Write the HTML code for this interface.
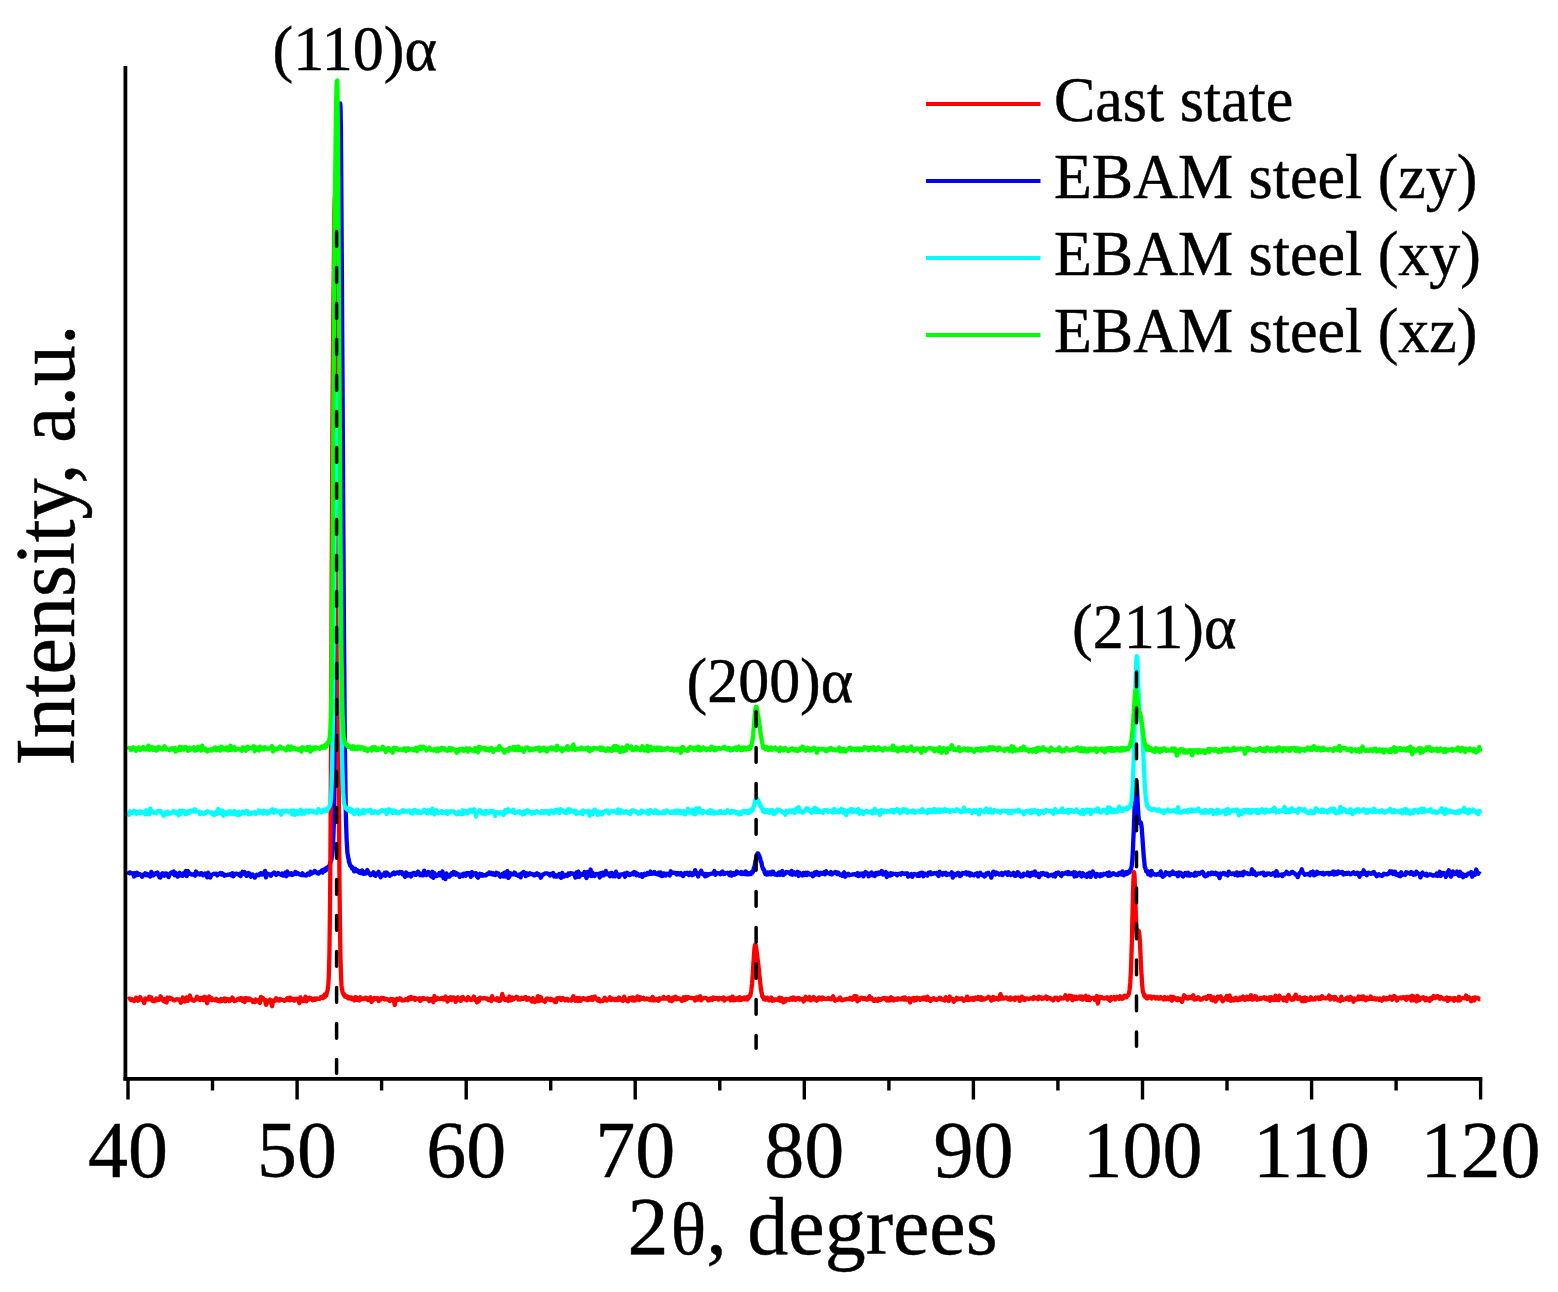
<!DOCTYPE html>
<html><head><meta charset="utf-8"><title>XRD patterns</title>
<style>
html,body{margin:0;padding:0;background:#fff;}
body{width:1558px;height:1292px;overflow:hidden;}
svg{display:block;}
text{font-family:"Liberation Serif","Times New Roman",serif;fill:#000;stroke:#000;stroke-width:0.45px;}
.tk{font-size:80px;}
.lg{font-size:62px;}
.pk{font-size:62px;}
.ax{font-size:82px;}
</style></head>
<body>
<svg width="1558" height="1292" viewBox="0 0 1558 1292">
<rect width="1558" height="1292" fill="#fff"/>
<g id="data">
<polyline fill="none" stroke="#0000ff" stroke-width="4.3" stroke-linejoin="round" points="128.0,874.8 129.0,872.7 130.0,872.3 131.0,873.2 132.1,873.6 133.1,873.3 134.1,876.5 135.1,873.1 136.1,875.3 137.1,872.7 138.1,874.8 139.2,874.1 140.2,874.4 141.2,875.2 142.2,876.7 143.2,874.7 144.2,874.6 145.2,873.2 146.3,875.2 147.3,874.1 148.3,875.4 149.3,874.3 150.3,876.6 151.3,871.9 152.3,874.0 153.4,875.4 154.4,873.9 155.4,873.3 156.4,874.0 157.4,872.6 158.4,874.4 159.4,877.4 160.5,877.5 161.5,874.2 162.5,873.3 163.5,873.9 164.5,875.7 165.5,873.4 166.6,873.6 167.6,875.5 168.6,877.1 169.6,873.9 170.6,873.0 171.6,872.4 172.6,873.5 173.7,871.5 174.7,875.2 175.7,872.9 176.7,874.9 177.7,876.6 178.7,875.8 179.7,872.8 180.8,875.4 181.8,875.7 182.8,875.8 183.8,873.1 184.8,874.1 185.8,871.0 186.8,876.1 187.9,871.2 188.9,872.8 189.9,873.9 190.9,874.0 191.9,874.5 192.9,874.6 193.9,874.0 195.0,875.7 196.0,871.5 197.0,874.2 198.0,873.3 199.0,874.4 200.0,874.5 201.0,873.1 202.1,873.5 203.1,875.3 204.1,874.8 205.1,873.5 206.1,874.8 207.1,877.3 208.1,872.6 209.2,874.8 210.2,877.6 211.2,875.4 212.2,874.7 213.2,874.2 214.2,873.7 215.2,874.1 216.3,873.7 217.3,875.4 218.3,874.0 219.3,873.9 220.3,873.0 221.3,874.4 222.3,873.3 223.4,874.2 224.4,875.8 225.4,874.9 226.4,875.1 227.4,874.9 228.4,874.6 229.4,874.4 230.5,874.1 231.5,875.4 232.5,873.2 233.5,876.2 234.5,874.6 235.5,873.6 236.5,874.0 237.6,873.8 238.6,874.9 239.6,873.9 240.6,876.1 241.6,873.7 242.6,871.8 243.7,873.7 244.7,872.1 245.7,874.5 246.7,875.9 247.7,875.4 248.7,872.9 249.7,873.7 250.8,876.8 251.8,875.0 252.8,874.5 253.8,875.8 254.8,877.6 255.8,876.1 256.8,874.7 257.9,875.0 258.9,875.3 259.9,873.8 260.9,873.2 261.9,874.5 262.9,873.3 263.9,874.4 265.0,870.9 266.0,877.4 267.0,873.3 268.0,874.2 269.0,874.1 270.0,874.9 271.0,875.7 272.1,873.8 273.1,873.4 274.1,872.4 275.1,873.3 276.1,875.0 277.1,874.4 278.1,873.0 279.2,873.8 280.2,874.3 281.2,874.9 282.2,873.5 283.2,875.5 284.2,874.1 285.2,872.8 286.3,876.2 287.3,871.5 288.3,873.9 289.3,874.6 290.3,873.8 291.3,873.2 292.3,874.9 293.4,874.2 294.4,874.1 295.4,871.9 296.4,873.9 297.4,873.0 298.4,873.4 299.4,874.3 300.5,874.8 301.5,875.1 302.5,873.3 303.5,875.1 304.5,875.3 305.5,875.2 306.5,875.5 307.6,873.6 308.6,873.5 309.6,874.6 310.6,871.8 311.6,873.6 312.6,872.6 313.6,872.7 314.7,870.9 315.7,871.8 316.7,872.6 317.7,873.5 318.7,873.5 319.7,872.0 320.8,871.6 321.6,870.6 321.9,871.7 322.3,871.1 322.6,872.6 322.9,872.2 323.3,870.8 323.6,869.7 324.0,870.0 324.3,869.4 324.6,869.8 325.0,870.9 325.3,869.9 325.7,868.5 326.0,869.7 326.3,869.8 326.7,868.5 327.0,868.0 327.3,867.4 327.7,867.9 328.0,867.7 328.4,867.5 328.7,867.1 329.0,866.5 329.4,866.0 329.7,864.9 330.1,862.9 330.4,862.8 330.7,862.0 331.1,860.6 331.4,859.8 331.7,857.6 332.1,855.3 332.4,853.4 332.8,849.2 333.1,843.6 333.4,836.0 333.8,825.0 334.1,809.4 334.4,787.7 334.8,759.7 335.1,723.2 335.5,677.6 335.8,623.6 336.1,561.6 336.5,493.6 336.8,423.6 337.2,356.6 337.5,297.0 337.8,251.5 338.2,221.7 338.5,192.7 338.8,163.8 339.2,138.0 339.5,117.5 339.9,105.5 340.2,103.5 340.5,106.4 340.9,127.3 341.2,166.2 341.5,217.0 341.9,274.5 342.2,332.1 342.6,388.3 342.9,446.6 343.2,507.0 343.6,566.2 343.9,621.2 344.3,670.4 344.6,712.7 344.9,747.6 345.3,776.7 345.6,799.4 345.9,816.7 346.3,829.7 346.6,839.0 347.0,845.9 347.3,851.1 347.6,854.2 348.0,856.2 348.3,858.2 348.6,858.8 349.0,862.3 349.3,862.2 349.7,864.2 350.0,864.6 350.3,865.9 350.7,866.1 351.0,866.0 351.4,866.5 351.7,867.1 352.0,868.4 352.2,867.2 353.2,868.8 354.2,871.4 355.2,868.8 356.3,871.1 357.3,870.2 358.3,871.8 359.3,872.8 360.3,871.3 361.3,873.1 362.3,870.5 363.4,873.9 364.4,872.0 365.4,873.6 366.4,873.2 367.4,870.0 368.4,872.3 369.4,873.5 370.5,875.2 371.5,873.7 372.5,873.8 373.5,872.2 374.5,875.3 375.5,875.8 376.5,873.7 377.6,873.5 378.6,871.8 379.6,874.9 380.6,877.2 381.6,874.8 382.6,875.5 383.6,874.6 384.7,872.8 385.7,875.7 386.7,872.5 387.7,873.8 388.7,874.4 389.7,875.8 390.8,874.6 391.8,874.6 392.8,873.2 393.8,872.5 394.8,874.2 395.8,873.3 396.8,872.5 397.9,872.6 398.9,873.6 399.9,872.0 400.9,872.6 401.9,872.3 402.9,874.5 403.9,874.8 405.0,876.8 406.0,872.4 407.0,873.5 408.0,875.5 409.0,874.1 410.0,873.9 411.0,876.5 412.1,874.5 413.1,873.0 414.1,872.8 415.1,874.9 416.1,874.9 417.1,872.9 418.1,871.6 419.2,873.7 420.2,875.3 421.2,873.8 422.2,875.4 423.2,875.3 424.2,870.6 425.2,874.3 426.3,875.1 427.3,873.9 428.3,871.9 429.3,874.2 430.3,875.5 431.3,876.5 432.3,871.8 433.4,877.8 434.4,873.1 435.4,875.7 436.4,876.1 437.4,875.8 438.4,874.8 439.4,873.1 440.5,875.4 441.5,873.7 442.5,871.4 443.5,878.1 444.5,875.5 445.5,879.1 446.5,873.4 447.6,876.4 448.6,876.5 449.6,876.6 450.6,874.6 451.6,873.2 452.6,874.5 453.6,871.9 454.7,872.5 455.7,874.7 456.7,873.3 457.7,874.3 458.7,874.4 459.7,876.9 460.7,874.8 461.8,874.5 462.8,876.1 463.8,873.6 464.8,874.2 465.8,875.8 466.8,873.1 467.9,874.3 468.9,873.0 469.9,874.9 470.9,876.8 471.9,872.2 472.9,875.1 473.9,873.6 475.0,873.3 476.0,873.1 477.0,876.5 478.0,877.6 479.0,875.3 480.0,873.8 481.0,875.6 482.1,874.3 483.1,875.7 484.1,875.1 485.1,875.1 486.1,875.4 487.1,873.9 488.1,874.1 489.2,872.5 490.2,874.0 491.2,872.8 492.2,874.4 493.2,873.4 494.2,874.7 495.2,875.1 496.3,872.8 497.3,873.6 498.3,873.4 499.3,875.5 500.3,876.7 501.3,875.6 502.3,874.1 503.4,876.4 504.4,872.7 505.4,876.5 506.4,873.8 507.4,871.1 508.4,877.9 509.4,876.5 510.5,873.2 511.5,874.7 512.5,874.2 513.5,874.5 514.5,872.6 515.5,873.6 516.5,875.1 517.6,874.8 518.6,876.0 519.6,874.6 520.6,877.4 521.6,873.5 522.6,874.2 523.6,872.0 524.7,872.9 525.7,876.1 526.7,873.3 527.7,875.2 528.7,874.5 529.7,873.3 530.7,874.1 531.8,873.9 532.8,874.3 533.8,875.4 534.8,875.3 535.8,873.8 536.8,873.3 537.8,874.8 538.9,874.3 539.9,875.7 540.9,877.7 541.9,875.5 542.9,874.4 543.9,874.3 545.0,873.4 546.0,873.4 547.0,873.3 548.0,874.0 549.0,874.0 550.0,875.4 551.0,874.0 552.1,874.2 553.1,872.9 554.1,876.5 555.1,875.1 556.1,876.7 557.1,875.4 558.1,876.3 559.2,874.1 560.2,875.4 561.2,877.8 562.2,872.9 563.2,875.9 564.2,876.6 565.2,875.0 566.3,875.3 567.3,875.9 568.3,873.5 569.3,874.8 570.3,873.2 571.3,873.4 572.3,873.5 573.4,874.1 574.4,874.5 575.4,877.5 576.4,872.5 577.4,876.8 578.4,871.7 579.4,876.8 580.5,873.8 581.5,874.1 582.5,874.9 583.5,874.7 584.5,872.0 585.5,875.2 586.5,878.0 587.6,871.9 588.6,875.6 589.6,874.8 590.6,869.5 591.6,876.1 592.6,872.8 593.6,874.5 594.7,876.1 595.7,874.1 596.7,873.8 597.7,874.5 598.7,873.8 599.7,877.5 600.7,873.2 601.8,875.5 602.8,872.8 603.8,875.2 604.8,874.1 605.8,870.9 606.8,874.2 607.8,873.9 608.9,873.7 609.9,876.2 610.9,872.8 611.9,872.9 612.9,876.2 613.9,874.5 615.0,876.3 616.0,871.7 617.0,875.4 618.0,874.2 619.0,877.0 620.0,875.5 621.0,874.3 622.1,874.4 623.1,874.2 624.1,873.6 625.1,876.8 626.1,874.3 627.1,872.8 628.1,873.5 629.2,875.1 630.2,874.9 631.2,874.0 632.2,873.3 633.2,874.2 634.2,872.0 635.2,872.5 636.3,875.2 637.3,873.5 638.3,874.6 639.3,875.7 640.3,875.0 641.3,874.2 642.3,876.9 643.4,875.1 644.4,873.7 645.4,875.1 646.4,874.7 647.4,873.0 648.4,874.2 649.4,873.9 650.5,871.6 651.5,873.9 652.5,873.7 653.5,873.6 654.5,872.0 655.5,873.7 656.5,874.1 657.6,874.3 658.6,872.7 659.6,875.0 660.6,872.6 661.6,876.0 662.6,875.9 663.6,873.3 664.7,873.5 665.7,875.5 666.7,873.7 667.7,873.8 668.7,874.4 669.7,875.5 670.7,871.3 671.8,873.1 672.8,872.8 673.8,872.7 674.8,873.0 675.8,873.0 676.8,874.4 677.8,872.9 678.9,874.2 679.9,874.6 680.9,873.1 681.9,874.2 682.9,876.1 683.9,874.4 684.9,873.1 686.0,873.9 687.0,872.8 688.0,874.3 689.0,875.0 690.0,872.8 691.0,873.6 692.1,875.3 693.1,873.2 694.1,874.1 695.1,870.1 696.1,872.8 697.1,873.1 698.1,876.5 699.2,873.2 700.2,873.0 701.2,870.8 702.2,873.5 703.2,874.5 704.2,873.9 705.2,876.3 706.3,874.0 707.3,875.6 708.3,874.1 709.3,874.5 710.3,873.9 711.3,873.7 712.3,873.7 713.4,873.5 714.4,871.0 715.4,874.8 716.4,873.2 717.4,873.1 718.4,873.4 719.4,873.4 720.5,874.2 721.5,872.2 722.5,871.5 723.5,874.1 724.5,873.9 725.5,873.2 726.5,873.0 727.6,872.7 728.6,873.7 729.6,875.2 730.6,872.4 731.6,875.6 732.6,874.7 733.6,873.1 734.7,874.7 735.7,874.2 736.7,871.5 737.7,872.1 738.7,873.2 739.7,873.3 740.7,873.0 740.9,873.7 741.3,872.0 741.6,874.0 741.9,872.5 742.3,873.1 742.6,873.3 742.9,872.7 743.3,872.6 743.6,872.9 744.0,873.6 744.3,874.0 744.6,874.0 745.0,872.8 745.3,873.0 745.6,871.4 746.0,873.0 746.3,872.0 746.7,874.4 747.0,873.1 747.3,872.9 747.7,873.7 748.0,874.2 748.4,873.7 748.7,874.2 749.0,873.4 749.4,874.2 749.7,874.2 750.0,873.1 750.4,874.2 750.7,874.2 751.1,873.1 751.4,872.2 751.7,872.5 752.1,873.0 752.4,871.2 752.8,872.2 753.1,871.4 753.4,870.6 753.8,868.0 754.1,868.2 754.4,867.4 754.8,865.0 755.1,863.8 755.5,860.7 755.8,860.4 756.1,858.0 756.5,857.0 756.8,854.6 757.1,854.5 757.5,853.6 757.8,853.9 758.2,853.5 758.5,854.1 758.8,855.9 759.2,855.6 759.5,856.5 759.9,857.7 760.2,858.3 760.5,860.4 760.9,861.8 761.2,861.8 761.5,862.5 761.9,865.3 762.2,866.5 762.6,867.5 762.9,868.8 763.2,868.5 763.6,869.8 763.9,869.7 764.2,870.3 764.6,872.5 764.9,871.7 765.3,874.1 765.6,872.8 765.9,872.4 766.3,873.6 766.6,874.5 767.0,873.6 767.3,872.4 767.6,873.6 768.0,874.4 768.3,873.0 768.6,872.8 769.0,874.2 769.3,873.5 769.7,872.6 770.0,873.2 770.3,872.9 770.7,873.7 771.0,873.6 771.3,874.4 772.2,871.6 773.2,871.6 774.2,874.1 775.2,874.7 776.3,874.2 777.3,874.9 778.3,872.9 779.3,872.4 780.3,874.8 781.3,872.4 782.3,871.0 783.4,875.0 784.4,872.8 785.4,873.4 786.4,872.0 787.4,872.1 788.4,872.3 789.4,873.3 790.5,874.2 791.5,870.9 792.5,874.7 793.5,872.3 794.5,872.4 795.5,874.6 796.5,873.6 797.6,871.8 798.6,876.0 799.6,872.7 800.6,874.1 801.6,874.0 802.6,875.5 803.6,873.1 804.7,874.9 805.7,872.7 806.7,875.1 807.7,872.7 808.7,873.3 809.7,874.5 810.7,874.0 811.8,873.7 812.8,876.3 813.8,874.0 814.8,872.5 815.8,874.5 816.8,872.1 817.8,873.4 818.9,875.1 819.9,872.9 820.9,872.8 821.9,873.8 822.9,873.6 823.9,872.4 824.9,874.3 826.0,871.1 827.0,873.1 828.0,873.1 829.0,873.3 830.0,874.0 831.0,872.1 832.0,874.4 833.1,873.4 834.1,872.9 835.1,872.0 836.1,872.2 837.1,874.1 838.1,872.5 839.2,873.8 840.2,875.0 841.2,875.0 842.2,875.7 843.2,873.4 844.2,872.4 845.2,876.7 846.3,874.1 847.3,875.1 848.3,873.7 849.3,875.2 850.3,874.8 851.3,874.7 852.3,874.5 853.4,874.4 854.4,874.2 855.4,874.2 856.4,875.1 857.4,873.2 858.4,876.0 859.4,873.8 860.5,875.1 861.5,873.7 862.5,873.5 863.5,876.4 864.5,873.4 865.5,872.1 866.5,872.8 867.6,873.4 868.6,876.3 869.6,873.9 870.6,874.9 871.6,872.4 872.6,875.2 873.6,874.5 874.7,876.0 875.7,872.9 876.7,874.6 877.7,874.2 878.7,872.6 879.7,873.8 880.7,873.5 881.8,870.9 882.8,874.5 883.8,874.4 884.8,873.2 885.8,872.1 886.8,877.0 887.8,873.6 888.9,875.1 889.9,875.6 890.9,873.2 891.9,874.9 892.9,873.6 893.9,873.8 894.9,873.8 896.0,873.9 897.0,875.3 898.0,874.1 899.0,873.8 900.0,873.7 901.0,874.5 902.0,872.9 903.1,873.4 904.1,874.0 905.1,873.4 906.1,874.0 907.1,873.3 908.1,876.6 909.1,875.7 910.2,874.6 911.2,874.0 912.2,876.8 913.2,874.5 914.2,873.9 915.2,874.4 916.3,874.5 917.3,875.8 918.3,874.0 919.3,875.8 920.3,872.9 921.3,874.8 922.3,872.7 923.4,876.3 924.4,873.6 925.4,873.9 926.4,875.2 927.4,875.6 928.4,872.6 929.4,873.6 930.5,872.3 931.5,874.2 932.5,873.9 933.5,873.5 934.5,873.1 935.5,873.5 936.5,873.0 937.6,874.6 938.6,875.9 939.6,871.6 940.6,873.9 941.6,873.6 942.6,874.7 943.6,872.9 944.7,873.9 945.7,872.8 946.7,875.0 947.7,874.2 948.7,873.9 949.7,874.6 950.7,873.8 951.8,872.2 952.8,877.7 953.8,874.5 954.8,873.9 955.8,875.3 956.8,873.7 957.8,872.8 958.9,873.2 959.9,876.1 960.9,875.6 961.9,873.3 962.9,872.8 963.9,873.5 964.9,873.6 966.0,872.3 967.0,874.4 968.0,872.7 969.0,872.9 970.0,875.5 971.0,873.5 972.0,874.3 973.1,875.1 974.1,875.3 975.1,873.9 976.1,874.3 977.1,873.2 978.1,876.4 979.1,875.0 980.2,872.8 981.2,874.2 982.2,875.1 983.2,874.8 984.2,876.5 985.2,876.0 986.3,873.6 987.3,874.1 988.3,872.7 989.3,874.6 990.3,874.4 991.3,877.6 992.3,874.4 993.4,871.6 994.4,873.4 995.4,874.4 996.4,872.6 997.4,873.1 998.4,873.7 999.4,874.6 1000.5,873.9 1001.5,873.0 1002.5,875.1 1003.5,873.4 1004.5,873.5 1005.5,872.4 1006.5,873.1 1007.6,874.9 1008.6,872.2 1009.6,874.1 1010.6,875.1 1011.6,873.7 1012.6,874.4 1013.6,872.8 1014.7,875.9 1015.7,875.7 1016.7,874.6 1017.7,872.2 1018.7,873.1 1019.7,875.6 1020.7,876.6 1021.8,874.9 1022.8,876.1 1023.8,873.8 1024.8,874.3 1025.8,874.5 1026.8,875.0 1027.8,872.6 1028.9,875.7 1029.9,876.2 1030.9,873.1 1031.9,872.8 1032.9,874.9 1033.9,873.6 1034.9,871.5 1036.0,875.5 1037.0,874.6 1038.0,873.8 1039.0,877.1 1040.0,874.6 1041.0,873.4 1042.0,874.5 1043.1,873.0 1044.1,873.4 1045.1,874.8 1046.1,873.6 1047.1,873.7 1048.1,876.3 1049.1,875.3 1050.2,875.3 1051.2,874.9 1052.2,874.8 1053.2,876.0 1054.2,874.2 1055.2,876.5 1056.2,873.0 1057.3,873.8 1058.3,872.4 1059.3,873.7 1060.3,874.8 1061.3,875.9 1062.3,873.2 1063.4,874.0 1064.4,873.5 1065.4,873.0 1066.4,872.5 1067.4,874.1 1068.4,871.9 1069.4,874.2 1070.5,874.1 1071.5,873.2 1072.5,872.8 1073.5,872.3 1074.5,876.5 1075.5,872.5 1076.5,876.1 1077.6,874.9 1078.6,873.7 1079.6,872.8 1080.6,875.5 1081.6,876.4 1082.6,873.1 1083.6,873.9 1084.7,875.5 1085.7,876.2 1086.7,876.8 1087.7,873.6 1088.7,875.0 1089.7,872.8 1090.7,876.9 1091.8,873.4 1092.8,871.5 1093.8,874.1 1094.8,874.1 1095.8,876.7 1096.8,873.9 1097.8,874.3 1098.9,875.0 1099.9,876.3 1100.9,874.2 1101.9,875.6 1102.9,874.9 1103.9,873.8 1104.9,874.3 1106.0,874.3 1107.0,873.0 1108.0,875.7 1109.0,872.4 1110.0,875.6 1111.0,875.3 1112.0,874.0 1113.1,873.1 1114.1,873.7 1115.1,874.5 1116.1,874.8 1117.1,874.2 1118.1,875.0 1119.1,873.1 1120.2,874.0 1120.5,872.6 1120.8,874.3 1121.2,873.8 1121.5,873.4 1121.9,874.5 1122.2,874.1 1122.5,871.5 1122.9,873.5 1123.2,872.4 1123.5,874.2 1123.9,875.2 1124.2,872.9 1124.6,873.3 1124.9,873.0 1125.2,873.4 1125.6,873.6 1125.9,874.0 1126.2,872.2 1126.6,874.0 1126.9,872.1 1127.3,872.9 1127.6,873.5 1127.9,873.0 1128.3,871.7 1128.6,871.7 1129.0,871.7 1129.3,871.8 1129.6,872.4 1130.0,870.3 1130.3,871.0 1130.6,869.7 1131.0,869.2 1131.3,867.6 1131.7,866.1 1132.0,862.5 1132.3,860.3 1132.7,854.0 1133.0,848.1 1133.3,840.2 1133.7,832.2 1134.0,822.8 1134.4,813.0 1134.7,803.3 1135.0,794.3 1135.4,787.2 1135.7,782.2 1136.1,780.2 1136.4,780.7 1136.7,784.6 1137.1,789.9 1137.4,796.5 1137.7,803.3 1138.1,809.8 1138.4,815.1 1138.8,819.2 1139.1,821.9 1139.4,823.0 1139.8,823.0 1140.1,822.8 1140.5,822.3 1140.8,822.6 1141.1,824.0 1141.5,826.0 1141.8,829.3 1142.1,833.8 1142.5,838.3 1142.8,843.3 1143.2,848.7 1143.5,852.9 1143.8,857.3 1144.2,860.5 1144.5,863.8 1144.8,866.9 1145.2,867.5 1145.5,869.0 1145.9,869.7 1146.2,871.5 1146.5,870.7 1146.9,871.0 1147.2,871.0 1147.6,871.2 1147.9,872.7 1148.2,874.4 1148.6,871.9 1148.9,873.4 1149.2,873.0 1149.6,872.1 1149.9,872.8 1150.3,872.9 1150.6,872.6 1150.9,875.5 1151.6,870.9 1152.6,873.9 1153.6,873.9 1154.7,874.5 1155.7,874.4 1156.7,874.8 1157.7,874.0 1158.7,874.4 1159.7,874.7 1160.7,871.4 1161.8,875.8 1162.8,876.8 1163.8,875.2 1164.8,875.3 1165.8,872.3 1166.8,873.9 1167.8,873.1 1168.9,873.3 1169.9,875.2 1170.9,873.0 1171.9,873.8 1172.9,871.6 1173.9,873.8 1174.9,874.1 1176.0,873.1 1177.0,873.0 1178.0,876.3 1179.0,872.5 1180.0,872.7 1181.0,873.0 1182.0,875.4 1183.1,876.5 1184.1,874.3 1185.1,873.0 1186.1,873.4 1187.1,875.3 1188.1,872.8 1189.1,875.7 1190.2,875.6 1191.2,874.0 1192.2,874.7 1193.2,874.8 1194.2,875.8 1195.2,872.6 1196.2,875.4 1197.3,873.4 1198.3,873.0 1199.3,874.0 1200.3,873.6 1201.3,872.6 1202.3,871.8 1203.3,872.6 1204.4,875.7 1205.4,876.3 1206.4,874.7 1207.4,875.4 1208.4,873.3 1209.4,873.8 1210.5,874.3 1211.5,872.6 1212.5,872.7 1213.5,874.1 1214.5,873.6 1215.5,872.7 1216.5,874.5 1217.6,873.6 1218.6,875.2 1219.6,878.1 1220.6,873.5 1221.6,874.3 1222.6,873.5 1223.6,872.9 1224.7,873.2 1225.7,874.7 1226.7,874.6 1227.7,875.4 1228.7,871.7 1229.7,873.4 1230.7,873.4 1231.8,874.1 1232.8,873.3 1233.8,873.3 1234.8,874.9 1235.8,874.1 1236.8,872.4 1237.8,875.5 1238.9,875.1 1239.9,873.1 1240.9,874.9 1241.9,872.8 1242.9,875.2 1243.9,871.6 1244.9,872.8 1246.0,873.4 1247.0,872.9 1248.0,874.1 1249.0,874.1 1250.0,874.0 1251.0,873.2 1252.0,869.3 1253.1,874.0 1254.1,871.4 1255.1,874.1 1256.1,875.2 1257.1,874.1 1258.1,873.5 1259.1,873.6 1260.2,873.6 1261.2,873.1 1262.2,873.0 1263.2,872.6 1264.2,875.2 1265.2,873.7 1266.2,874.9 1267.3,873.4 1268.3,873.8 1269.3,873.5 1270.3,874.3 1271.3,874.8 1272.3,874.1 1273.3,873.0 1274.4,872.8 1275.4,875.8 1276.4,871.1 1277.4,873.3 1278.4,875.5 1279.4,875.0 1280.4,875.2 1281.5,874.4 1282.5,876.1 1283.5,874.1 1284.5,874.3 1285.5,873.4 1286.5,871.8 1287.6,872.9 1288.6,874.1 1289.6,874.0 1290.6,873.3 1291.6,872.1 1292.6,871.8 1293.6,873.2 1294.7,873.4 1295.7,874.7 1296.7,875.0 1297.7,877.1 1298.7,874.7 1299.7,872.8 1300.7,872.5 1301.8,869.3 1302.8,872.8 1303.8,873.4 1304.8,874.8 1305.8,874.3 1306.8,874.3 1307.8,873.8 1308.9,874.3 1309.9,875.2 1310.9,872.1 1311.9,872.8 1312.9,871.6 1313.9,875.3 1314.9,874.9 1316.0,874.3 1317.0,871.8 1318.0,873.5 1319.0,873.0 1320.0,873.4 1321.0,873.1 1322.0,874.0 1323.1,872.9 1324.1,874.5 1325.1,873.7 1326.1,873.1 1327.1,873.3 1328.1,872.9 1329.1,874.4 1330.2,873.1 1331.2,873.8 1332.2,872.9 1333.2,871.5 1334.2,874.5 1335.2,872.0 1336.2,874.2 1337.3,873.9 1338.3,871.4 1339.3,872.3 1340.3,872.9 1341.3,872.5 1342.3,872.0 1343.3,874.5 1344.4,873.3 1345.4,874.1 1346.4,873.0 1347.4,874.0 1348.4,872.7 1349.4,873.6 1350.4,874.4 1351.5,873.7 1352.5,873.1 1353.5,872.3 1354.5,873.8 1355.5,874.1 1356.5,873.3 1357.5,872.7 1358.6,874.3 1359.6,876.7 1360.6,873.1 1361.6,873.9 1362.6,874.0 1363.6,870.3 1364.7,873.7 1365.7,872.7 1366.7,875.3 1367.7,873.3 1368.7,872.6 1369.7,873.4 1370.7,873.9 1371.8,872.9 1372.8,873.5 1373.8,871.9 1374.8,873.4 1375.8,874.7 1376.8,876.2 1377.8,874.7 1378.9,874.2 1379.9,875.3 1380.9,875.1 1381.9,876.0 1382.9,875.3 1383.9,873.7 1384.9,874.2 1386.0,874.1 1387.0,874.3 1388.0,874.1 1389.0,872.9 1390.0,871.3 1391.0,873.1 1392.0,871.4 1393.1,874.0 1394.1,873.8 1395.1,871.7 1396.1,874.7 1397.1,874.9 1398.1,874.0 1399.1,875.9 1400.2,876.2 1401.2,872.3 1402.2,875.1 1403.2,874.4 1404.2,874.4 1405.2,875.0 1406.2,872.2 1407.3,873.1 1408.3,872.9 1409.3,872.9 1410.3,873.8 1411.3,872.1 1412.3,872.6 1413.3,874.7 1414.4,873.9 1415.4,874.5 1416.4,871.8 1417.4,873.2 1418.4,873.5 1419.4,874.2 1420.4,877.4 1421.5,875.4 1422.5,872.5 1423.5,874.3 1424.5,874.3 1425.5,875.2 1426.5,873.7 1427.5,875.7 1428.6,874.8 1429.6,874.5 1430.6,874.4 1431.6,874.9 1432.6,875.6 1433.6,875.5 1434.7,874.9 1435.7,875.5 1436.7,873.6 1437.7,875.9 1438.7,874.3 1439.7,871.8 1440.7,876.0 1441.8,874.5 1442.8,872.9 1443.8,874.1 1444.8,873.2 1445.8,876.9 1446.8,874.9 1447.8,872.3 1448.9,870.3 1449.9,873.7 1450.9,876.6 1451.9,872.9 1452.9,871.4 1453.9,874.3 1454.9,873.8 1456.0,873.7 1457.0,871.6 1458.0,874.7 1459.0,875.7 1460.0,871.8 1461.0,875.7 1462.0,873.6 1463.1,877.2 1464.1,874.8 1465.1,874.9 1466.1,875.7 1467.1,874.9 1468.1,873.5 1469.1,873.3 1470.2,873.6 1471.2,872.0 1472.2,876.7 1473.2,873.7 1474.2,873.4 1475.2,874.6 1476.2,869.5 1477.3,872.4 1478.3,873.9 1479.3,873.4 1480.3,874.2"/>
<polyline fill="none" stroke="#ff0000" stroke-width="4.3" stroke-linejoin="round" points="128.0,999.4 129.0,998.9 130.0,998.6 131.0,1000.2 132.1,999.3 133.1,1000.3 134.1,1001.0 135.1,999.8 136.1,997.7 137.1,998.7 138.1,1000.7 139.2,999.3 140.2,997.1 141.2,999.4 142.2,1000.1 143.2,999.8 144.2,1003.1 145.2,998.5 146.3,999.1 147.3,999.1 148.3,999.4 149.3,996.8 150.3,999.0 151.3,997.6 152.3,1000.9 153.4,1001.1 154.4,1001.2 155.4,1000.1 156.4,998.5 157.4,1000.2 158.4,998.7 159.4,999.7 160.5,996.3 161.5,998.3 162.5,999.6 163.5,1001.2 164.5,999.0 165.5,1001.8 166.6,1002.4 167.6,997.5 168.6,999.0 169.6,997.9 170.6,999.0 171.6,998.5 172.6,999.1 173.7,1000.4 174.7,1000.4 175.7,999.6 176.7,999.2 177.7,999.4 178.7,999.4 179.7,999.9 180.8,1002.8 181.8,999.8 182.8,997.5 183.8,1000.2 184.8,1001.4 185.8,999.4 186.8,997.5 187.9,1000.9 188.9,998.8 189.9,995.5 190.9,999.0 191.9,1000.0 192.9,999.7 193.9,1000.8 195.0,1000.0 196.0,999.4 197.0,996.8 198.0,997.9 199.0,999.4 200.0,1000.1 201.0,998.0 202.1,998.5 203.1,999.9 204.1,997.0 205.1,997.0 206.1,999.2 207.1,1003.2 208.1,998.8 209.2,996.6 210.2,999.5 211.2,997.8 212.2,1000.3 213.2,999.4 214.2,999.8 215.2,1000.3 216.3,998.9 217.3,1000.6 218.3,1001.1 219.3,1000.1 220.3,1001.3 221.3,998.9 222.3,1000.8 223.4,1000.0 224.4,998.4 225.4,1001.3 226.4,999.0 227.4,999.0 228.4,999.8 229.4,1001.0 230.5,999.3 231.5,999.9 232.5,997.6 233.5,999.8 234.5,1001.1 235.5,1000.7 236.5,1000.3 237.6,999.1 238.6,998.6 239.6,999.7 240.6,998.1 241.6,998.3 242.6,1000.9 243.7,998.6 244.7,1002.0 245.7,998.0 246.7,998.3 247.7,998.3 248.7,1000.1 249.7,998.6 250.8,1000.0 251.8,999.8 252.8,1001.9 253.8,1000.7 254.8,1002.0 255.8,999.4 256.8,1001.3 257.9,1000.4 258.9,1000.2 259.9,1003.0 260.9,996.9 261.9,999.4 262.9,998.0 263.9,999.9 265.0,1000.0 266.0,1004.9 267.0,1000.6 268.0,1002.4 269.0,1001.8 270.0,999.6 271.0,1000.7 272.1,1006.2 273.1,1000.3 274.1,1000.3 275.1,1000.7 276.1,998.2 277.1,999.1 278.1,1000.5 279.2,1000.7 280.2,998.9 281.2,999.6 282.2,999.8 283.2,999.8 284.2,1000.8 285.2,1000.0 286.3,1000.0 287.3,998.0 288.3,997.8 289.3,1000.2 290.3,997.8 291.3,1000.1 292.3,999.0 293.4,998.8 294.4,1000.6 295.4,998.9 296.4,998.7 297.4,999.0 298.4,999.9 299.4,1003.2 300.5,997.3 301.5,999.9 302.5,1001.2 303.5,1001.0 304.5,999.4 305.5,996.7 306.5,1001.3 307.6,998.3 308.6,999.5 309.6,997.8 310.6,998.1 311.6,998.7 312.6,1000.3 313.6,1000.2 314.7,998.4 315.7,999.6 316.7,998.4 317.7,998.8 318.7,998.6 319.7,998.9 320.8,997.2 321.6,997.5 321.9,997.7 322.3,997.4 322.6,996.7 322.9,998.2 323.3,996.6 323.6,997.2 324.0,996.6 324.3,997.1 324.6,994.5 325.0,996.9 325.3,995.2 325.7,994.1 326.0,995.8 326.3,995.4 326.7,993.6 327.0,991.8 327.3,991.3 327.7,990.0 328.0,987.1 328.4,984.1 328.7,978.1 329.0,969.1 329.4,954.0 329.7,932.2 330.1,900.2 330.4,857.2 330.7,802.2 331.1,735.0 331.4,658.4 331.7,577.8 332.1,498.5 332.4,428.5 332.8,375.5 333.1,341.1 333.4,306.4 333.8,271.0 334.1,238.4 334.4,212.8 334.8,197.9 335.1,195.6 335.5,199.0 335.8,226.2 336.1,276.2 336.5,340.4 336.8,411.3 337.2,480.9 337.5,544.7 337.8,609.4 338.2,675.1 338.5,737.2 338.8,793.9 339.2,843.0 339.5,883.9 339.9,916.6 340.2,941.1 340.5,958.8 340.9,971.2 341.2,979.4 341.5,985.2 341.9,989.4 342.2,990.0 342.6,992.1 342.9,992.8 343.2,993.3 343.6,994.6 343.9,995.1 344.3,994.2 344.6,994.8 344.9,996.6 345.3,996.3 345.6,996.7 345.9,996.2 346.3,996.5 346.6,997.2 347.0,996.7 347.3,996.5 347.6,997.4 348.0,998.1 348.3,996.9 348.6,998.5 349.0,998.3 349.3,997.3 349.7,998.0 350.0,998.0 350.3,998.6 350.7,998.6 351.0,997.3 351.4,997.3 351.7,999.1 352.0,998.5 352.2,998.9 353.2,998.9 354.2,1000.4 355.2,997.1 356.3,999.9 357.3,997.7 358.3,999.6 359.3,1000.4 360.3,997.2 361.3,999.4 362.3,998.6 363.4,998.6 364.4,998.9 365.4,997.7 366.4,997.9 367.4,999.9 368.4,1000.1 369.4,998.4 370.5,997.3 371.5,1002.0 372.5,1000.5 373.5,999.6 374.5,997.9 375.5,998.5 376.5,998.9 377.6,998.0 378.6,1001.1 379.6,999.3 380.6,999.6 381.6,997.9 382.6,998.0 383.6,998.2 384.7,999.5 385.7,998.9 386.7,998.9 387.7,999.7 388.7,999.6 389.7,1001.1 390.8,999.0 391.8,999.6 392.8,999.2 393.8,1001.1 394.8,1005.1 395.8,999.3 396.8,998.8 397.9,999.8 398.9,999.6 399.9,998.2 400.9,998.9 401.9,1000.4 402.9,1000.5 403.9,1000.3 405.0,1000.2 406.0,998.8 407.0,998.8 408.0,1000.3 409.0,997.8 410.0,999.1 411.0,996.9 412.1,998.8 413.1,998.4 414.1,997.8 415.1,999.9 416.1,998.3 417.1,998.8 418.1,998.9 419.2,998.3 420.2,1001.0 421.2,998.6 422.2,999.4 423.2,997.9 424.2,998.6 425.2,998.8 426.3,998.8 427.3,998.5 428.3,999.4 429.3,1001.1 430.3,999.0 431.3,999.0 432.3,998.7 433.4,1002.2 434.4,996.0 435.4,999.7 436.4,999.8 437.4,998.0 438.4,998.7 439.4,999.2 440.5,999.0 441.5,997.9 442.5,998.0 443.5,999.6 444.5,999.4 445.5,996.5 446.5,999.2 447.6,1001.6 448.6,998.2 449.6,999.3 450.6,997.2 451.6,1000.0 452.6,997.5 453.6,997.4 454.7,998.5 455.7,1001.8 456.7,998.2 457.7,997.4 458.7,999.6 459.7,999.3 460.7,1001.0 461.8,997.4 462.8,996.9 463.8,998.5 464.8,999.4 465.8,999.4 466.8,1000.3 467.9,997.1 468.9,998.0 469.9,998.8 470.9,1000.0 471.9,999.5 472.9,998.4 473.9,996.6 475.0,1000.1 476.0,1000.2 477.0,1002.4 478.0,998.9 479.0,1001.0 480.0,997.6 481.0,998.4 482.1,998.3 483.1,998.5 484.1,998.0 485.1,998.4 486.1,998.6 487.1,998.5 488.1,999.9 489.2,999.0 490.2,999.1 491.2,1001.0 492.2,996.1 493.2,999.4 494.2,999.2 495.2,999.3 496.3,999.9 497.3,998.2 498.3,1000.6 499.3,1001.0 500.3,1000.5 501.3,998.5 502.3,993.9 503.4,998.6 504.4,999.3 505.4,1000.1 506.4,998.9 507.4,998.7 508.4,1000.9 509.4,996.5 510.5,1000.3 511.5,1000.1 512.5,997.4 513.5,999.4 514.5,998.3 515.5,997.9 516.5,996.8 517.6,997.2 518.6,999.6 519.6,998.6 520.6,999.4 521.6,997.8 522.6,998.8 523.6,998.9 524.7,997.3 525.7,997.2 526.7,999.8 527.7,999.4 528.7,998.0 529.7,999.0 530.7,1000.0 531.8,1001.5 532.8,998.1 533.8,1000.0 534.8,1001.9 535.8,999.4 536.8,1001.1 537.8,996.2 538.9,1001.2 539.9,999.4 540.9,997.1 541.9,1000.4 542.9,1000.7 543.9,1000.9 545.0,1001.7 546.0,999.3 547.0,998.4 548.0,998.8 549.0,999.3 550.0,1000.0 551.0,998.8 552.1,999.4 553.1,1000.4 554.1,999.8 555.1,1002.2 556.1,1002.1 557.1,998.1 558.1,998.8 559.2,997.8 560.2,998.0 561.2,1000.1 562.2,998.2 563.2,998.2 564.2,999.1 565.2,1000.4 566.3,999.0 567.3,999.0 568.3,1000.5 569.3,1000.0 570.3,1000.0 571.3,1000.6 572.3,998.3 573.4,996.2 574.4,998.7 575.4,1000.7 576.4,1000.4 577.4,998.1 578.4,1001.0 579.4,998.0 580.5,1000.9 581.5,999.7 582.5,998.4 583.5,998.1 584.5,999.1 585.5,999.5 586.5,998.7 587.6,1000.3 588.6,997.9 589.6,999.6 590.6,999.5 591.6,997.2 592.6,999.9 593.6,997.2 594.7,996.5 595.7,998.7 596.7,999.1 597.7,1000.5 598.7,998.8 599.7,1001.3 600.7,1001.3 601.8,1000.9 602.8,1001.1 603.8,999.9 604.8,997.7 605.8,1000.2 606.8,1000.6 607.8,999.6 608.9,999.0 609.9,997.3 610.9,1000.1 611.9,999.7 612.9,998.7 613.9,999.4 615.0,1000.1 616.0,999.1 617.0,1000.2 618.0,1000.1 619.0,997.4 620.0,998.8 621.0,999.8 622.1,1000.3 623.1,1000.9 624.1,996.7 625.1,999.0 626.1,1000.0 627.1,1000.7 628.1,1001.3 629.2,998.1 630.2,998.8 631.2,997.9 632.2,1000.2 633.2,997.5 634.2,1000.6 635.2,1000.3 636.3,999.7 637.3,996.4 638.3,998.2 639.3,1000.0 640.3,997.3 641.3,998.8 642.3,998.9 643.4,997.8 644.4,999.4 645.4,999.4 646.4,998.5 647.4,999.0 648.4,998.8 649.4,999.9 650.5,998.8 651.5,1000.3 652.5,996.9 653.5,1000.5 654.5,998.8 655.5,1000.3 656.5,999.0 657.6,1000.0 658.6,1000.7 659.6,998.2 660.6,999.0 661.6,998.7 662.6,998.6 663.6,996.9 664.7,998.7 665.7,998.6 666.7,997.9 667.7,998.7 668.7,997.0 669.7,1000.6 670.7,999.5 671.8,1001.2 672.8,997.8 673.8,997.4 674.8,999.2 675.8,996.8 676.8,999.2 677.8,998.1 678.9,998.5 679.9,999.2 680.9,998.9 681.9,1001.1 682.9,999.6 683.9,997.2 684.9,1000.0 686.0,997.1 687.0,998.9 688.0,997.2 689.0,997.8 690.0,997.7 691.0,998.1 692.1,998.0 693.1,998.1 694.1,998.5 695.1,1000.6 696.1,997.3 697.1,997.3 698.1,999.5 699.2,997.0 700.2,996.3 701.2,1000.3 702.2,998.9 703.2,998.3 704.2,998.0 705.2,997.8 706.3,998.2 707.3,999.1 708.3,1000.5 709.3,1000.2 710.3,998.4 711.3,998.3 712.3,1000.0 713.4,997.4 714.4,998.6 715.4,998.8 716.4,997.8 717.4,998.0 718.4,999.7 719.4,997.9 720.5,998.1 721.5,998.4 722.5,999.3 723.5,997.5 724.5,1000.5 725.5,998.7 726.5,998.8 727.6,998.6 728.6,998.2 729.6,997.8 730.6,1000.4 731.6,999.2 732.6,996.6 733.6,1000.3 734.7,998.2 735.7,999.9 736.7,999.1 737.7,998.0 738.7,1000.0 739.7,997.2 740.7,999.8 740.9,997.9 741.3,999.3 741.6,999.9 741.9,999.3 742.3,998.5 742.6,998.9 742.9,998.6 743.3,998.0 743.6,998.0 744.0,998.8 744.3,999.2 744.6,997.5 745.0,998.7 745.3,999.1 745.6,998.8 746.0,997.9 746.3,999.4 746.7,997.7 747.0,999.0 747.3,999.6 747.7,996.9 748.0,998.4 748.4,998.3 748.7,996.5 749.0,997.2 749.4,997.1 749.7,995.9 750.0,996.3 750.4,995.6 750.7,993.5 751.1,991.6 751.4,989.5 751.7,986.8 752.1,983.2 752.4,978.9 752.8,974.1 753.1,968.6 753.4,962.9 753.8,958.0 754.1,953.3 754.4,948.8 754.8,946.1 755.1,944.8 755.5,944.7 755.8,945.7 756.1,947.7 756.5,949.9 756.8,952.5 757.1,955.2 757.5,957.7 757.8,960.6 758.2,963.3 758.5,966.3 758.8,969.3 759.2,973.0 759.5,975.9 759.9,979.5 760.2,982.3 760.5,984.9 760.9,988.9 761.2,990.5 761.5,992.7 761.9,993.1 762.2,996.4 762.6,996.7 762.9,997.0 763.2,997.8 763.6,998.1 763.9,999.2 764.2,998.5 764.6,997.4 764.9,998.3 765.3,999.6 765.6,999.1 765.9,998.5 766.3,999.2 766.6,998.1 767.0,999.3 767.3,997.7 767.6,998.3 768.0,999.4 768.3,998.8 768.6,999.3 769.0,1000.4 769.3,998.8 769.7,999.2 770.0,998.7 770.3,998.6 770.7,999.0 771.0,998.1 771.3,997.6 772.2,1000.7 773.2,999.0 774.2,1000.5 775.2,999.3 776.3,999.4 777.3,1000.0 778.3,1000.0 779.3,997.7 780.3,1000.7 781.3,998.0 782.3,999.5 783.4,1002.4 784.4,999.4 785.4,1001.3 786.4,998.9 787.4,999.7 788.4,999.4 789.4,999.8 790.5,998.3 791.5,998.2 792.5,999.7 793.5,997.4 794.5,998.3 795.5,1000.0 796.5,998.5 797.6,998.2 798.6,998.0 799.6,999.5 800.6,998.8 801.6,999.4 802.6,999.0 803.6,1001.5 804.7,998.7 805.7,996.8 806.7,999.3 807.7,999.2 808.7,999.3 809.7,997.1 810.7,1000.4 811.8,999.0 812.8,999.0 813.8,997.1 814.8,999.6 815.8,998.9 816.8,1000.7 817.8,998.5 818.9,997.5 819.9,999.1 820.9,997.9 821.9,999.5 822.9,997.6 823.9,998.8 824.9,998.7 826.0,999.0 827.0,998.9 828.0,998.1 829.0,999.0 830.0,998.4 831.0,999.3 832.0,998.7 833.1,996.3 834.1,999.0 835.1,1000.8 836.1,999.5 837.1,999.8 838.1,999.7 839.2,998.6 840.2,997.5 841.2,1000.1 842.2,1000.4 843.2,999.8 844.2,999.5 845.2,999.5 846.3,999.0 847.3,999.3 848.3,998.9 849.3,999.3 850.3,997.8 851.3,998.2 852.3,999.7 853.4,998.6 854.4,996.1 855.4,999.1 856.4,996.2 857.4,1001.3 858.4,999.9 859.4,999.8 860.5,998.1 861.5,997.6 862.5,998.2 863.5,999.0 864.5,998.0 865.5,999.1 866.5,999.7 867.6,999.6 868.6,997.7 869.6,996.3 870.6,998.9 871.6,998.1 872.6,999.4 873.6,1000.8 874.7,1000.8 875.7,999.2 876.7,1000.2 877.7,1000.9 878.7,998.7 879.7,999.2 880.7,999.9 881.8,998.9 882.8,998.3 883.8,998.0 884.8,998.9 885.8,998.2 886.8,1000.4 887.8,998.4 888.9,1000.6 889.9,1000.2 890.9,997.3 891.9,1000.1 892.9,998.3 893.9,1000.4 894.9,999.4 896.0,998.8 897.0,999.7 898.0,998.2 899.0,999.2 900.0,999.3 901.0,998.7 902.0,999.3 903.1,997.7 904.1,999.5 905.1,997.4 906.1,999.6 907.1,999.4 908.1,999.8 909.1,998.3 910.2,1002.5 911.2,998.6 912.2,999.1 913.2,998.0 914.2,1000.6 915.2,998.3 916.3,1000.0 917.3,997.7 918.3,999.1 919.3,998.3 920.3,999.9 921.3,998.4 922.3,997.7 923.4,999.3 924.4,997.4 925.4,997.7 926.4,999.8 927.4,996.6 928.4,999.7 929.4,998.4 930.5,1001.1 931.5,999.2 932.5,999.6 933.5,998.2 934.5,998.8 935.5,999.8 936.5,999.8 937.6,998.8 938.6,999.0 939.6,997.7 940.6,998.1 941.6,999.6 942.6,999.5 943.6,999.2 944.7,1000.5 945.7,997.3 946.7,998.5 947.7,998.4 948.7,1001.1 949.7,996.5 950.7,999.3 951.8,999.5 952.8,999.0 953.8,1001.7 954.8,1000.3 955.8,999.8 956.8,997.8 957.8,999.5 958.9,998.5 959.9,998.9 960.9,999.1 961.9,998.3 962.9,999.6 963.9,1000.8 964.9,1000.1 966.0,999.1 967.0,996.6 968.0,1000.1 969.0,1000.1 970.0,998.6 971.0,998.3 972.0,999.6 973.1,997.9 974.1,999.8 975.1,997.6 976.1,997.8 977.1,998.9 978.1,997.1 979.1,998.9 980.2,999.5 981.2,997.3 982.2,999.9 983.2,998.2 984.2,999.4 985.2,999.0 986.3,998.1 987.3,998.0 988.3,996.7 989.3,997.8 990.3,997.7 991.3,1000.6 992.3,999.8 993.4,997.0 994.4,999.6 995.4,998.9 996.4,998.1 997.4,999.1 998.4,999.5 999.4,997.9 1000.5,994.1 1001.5,998.7 1002.5,997.3 1003.5,998.6 1004.5,998.3 1005.5,997.6 1006.5,997.4 1007.6,998.8 1008.6,999.4 1009.6,999.5 1010.6,997.5 1011.6,999.4 1012.6,998.8 1013.6,998.3 1014.7,999.9 1015.7,997.5 1016.7,998.5 1017.7,997.9 1018.7,997.6 1019.7,1001.0 1020.7,999.7 1021.8,996.6 1022.8,999.2 1023.8,998.0 1024.8,1000.0 1025.8,998.7 1026.8,998.4 1027.8,998.7 1028.9,999.0 1029.9,998.6 1030.9,998.2 1031.9,998.3 1032.9,999.0 1033.9,997.1 1034.9,998.4 1036.0,998.2 1037.0,997.9 1038.0,999.2 1039.0,996.8 1040.0,997.9 1041.0,997.4 1042.0,999.0 1043.1,997.8 1044.1,998.4 1045.1,998.0 1046.1,996.5 1047.1,998.9 1048.1,997.5 1049.1,998.0 1050.2,998.2 1051.2,999.3 1052.2,999.2 1053.2,1000.4 1054.2,998.5 1055.2,997.7 1056.2,997.6 1057.3,999.0 1058.3,1000.1 1059.3,998.6 1060.3,997.5 1061.3,998.5 1062.3,998.5 1063.4,998.3 1064.4,997.4 1065.4,995.3 1066.4,997.6 1067.4,999.5 1068.4,998.4 1069.4,995.6 1070.5,998.1 1071.5,995.9 1072.5,1000.4 1073.5,998.3 1074.5,996.7 1075.5,999.0 1076.5,997.1 1077.6,998.7 1078.6,998.1 1079.6,996.6 1080.6,998.8 1081.6,996.4 1082.6,999.6 1083.6,998.1 1084.7,996.8 1085.7,995.9 1086.7,999.9 1087.7,999.8 1088.7,996.7 1089.7,1000.1 1090.7,998.4 1091.8,998.0 1092.8,998.1 1093.8,997.9 1094.8,999.9 1095.8,998.3 1096.8,996.0 1097.8,1003.5 1098.9,999.2 1099.9,996.9 1100.9,997.7 1101.9,997.1 1102.9,998.2 1103.9,998.6 1104.9,998.4 1106.0,997.5 1107.0,997.2 1108.0,999.1 1109.0,998.0 1110.0,1000.7 1111.0,997.1 1112.0,999.0 1113.1,998.1 1114.1,997.1 1115.1,999.5 1116.1,998.0 1117.1,996.8 1118.1,997.4 1119.1,998.9 1120.2,996.2 1120.5,998.6 1120.8,998.1 1121.2,997.4 1121.5,998.5 1121.9,998.7 1122.2,997.9 1122.5,997.5 1122.9,998.6 1123.2,998.3 1123.5,996.5 1123.9,996.9 1124.2,996.9 1124.6,996.6 1124.9,995.8 1125.2,997.3 1125.6,996.7 1125.9,996.6 1126.2,997.3 1126.6,997.2 1126.9,996.0 1127.3,996.0 1127.6,995.2 1127.9,995.1 1128.3,995.1 1128.6,994.0 1129.0,993.8 1129.3,991.1 1129.6,989.6 1130.0,985.8 1130.3,982.2 1130.6,976.3 1131.0,969.3 1131.3,959.8 1131.7,948.4 1132.0,935.7 1132.3,921.7 1132.7,907.4 1133.0,893.9 1133.3,882.7 1133.7,875.3 1134.0,872.2 1134.4,873.9 1134.7,880.2 1135.0,889.1 1135.4,900.4 1135.7,911.0 1136.1,921.0 1136.4,929.0 1136.7,934.0 1137.1,937.1 1137.4,937.5 1137.7,936.0 1138.1,933.8 1138.4,932.0 1138.8,930.9 1139.1,932.2 1139.4,935.1 1139.8,939.8 1140.1,946.1 1140.5,953.4 1140.8,960.9 1141.1,967.5 1141.5,973.9 1141.8,978.9 1142.1,984.3 1142.5,987.6 1142.8,991.5 1143.2,992.1 1143.5,993.3 1143.8,994.1 1144.2,995.8 1144.5,994.6 1144.8,996.6 1145.2,996.5 1145.5,996.2 1145.9,996.1 1146.2,997.5 1146.5,998.2 1146.9,996.7 1147.2,997.5 1147.6,998.4 1147.9,996.8 1148.2,997.2 1148.6,996.6 1148.9,997.4 1149.2,997.5 1149.6,997.3 1149.9,997.1 1150.3,996.5 1150.6,996.7 1150.9,996.7 1151.6,998.5 1152.6,997.2 1153.6,996.8 1154.7,997.2 1155.7,998.6 1156.7,997.1 1157.7,997.3 1158.7,998.8 1159.7,998.5 1160.7,997.1 1161.8,998.4 1162.8,998.1 1163.8,999.4 1164.8,997.1 1165.8,999.2 1166.8,998.7 1167.8,997.4 1168.9,999.4 1169.9,999.3 1170.9,996.7 1171.9,1000.7 1172.9,996.9 1173.9,997.2 1174.9,997.9 1176.0,999.3 1177.0,1000.1 1178.0,998.3 1179.0,1000.0 1180.0,998.8 1181.0,1000.1 1182.0,1001.8 1183.1,998.7 1184.1,995.3 1185.1,997.8 1186.1,997.1 1187.1,998.5 1188.1,998.5 1189.1,996.9 1190.2,997.0 1191.2,998.1 1192.2,998.1 1193.2,995.2 1194.2,999.5 1195.2,999.4 1196.2,998.4 1197.3,998.8 1198.3,997.2 1199.3,998.4 1200.3,999.7 1201.3,999.7 1202.3,999.0 1203.3,998.1 1204.4,997.5 1205.4,997.2 1206.4,999.1 1207.4,998.0 1208.4,995.9 1209.4,997.4 1210.5,996.1 1211.5,999.9 1212.5,1000.3 1213.5,997.4 1214.5,998.0 1215.5,1001.5 1216.5,999.9 1217.6,996.8 1218.6,998.2 1219.6,996.9 1220.6,996.3 1221.6,998.6 1222.6,1001.4 1223.6,1000.3 1224.7,998.5 1225.7,997.9 1226.7,996.0 1227.7,999.7 1228.7,996.7 1229.7,995.6 1230.7,1000.8 1231.8,998.8 1232.8,1000.5 1233.8,998.8 1234.8,1000.3 1235.8,997.7 1236.8,999.0 1237.8,1000.3 1238.9,999.6 1239.9,997.7 1240.9,999.4 1241.9,997.4 1242.9,996.5 1243.9,998.9 1244.9,999.9 1246.0,999.3 1247.0,996.7 1248.0,999.3 1249.0,999.2 1250.0,997.7 1251.0,995.2 1252.0,999.6 1253.1,999.5 1254.1,998.2 1255.1,996.3 1256.1,996.6 1257.1,999.7 1258.1,999.4 1259.1,999.1 1260.2,998.1 1261.2,998.9 1262.2,997.8 1263.2,998.1 1264.2,997.3 1265.2,998.7 1266.2,997.9 1267.3,999.5 1268.3,999.3 1269.3,997.4 1270.3,1000.8 1271.3,997.1 1272.3,999.0 1273.3,999.8 1274.4,1000.0 1275.4,995.7 1276.4,999.7 1277.4,1000.0 1278.4,1000.2 1279.4,995.7 1280.4,997.6 1281.5,998.4 1282.5,998.0 1283.5,1000.2 1284.5,997.7 1285.5,1000.1 1286.5,1000.9 1287.6,996.7 1288.6,995.0 1289.6,997.9 1290.6,998.6 1291.6,999.7 1292.6,998.2 1293.6,999.6 1294.7,996.6 1295.7,994.7 1296.7,998.1 1297.7,999.0 1298.7,998.0 1299.7,997.2 1300.7,999.0 1301.8,1000.9 1302.8,998.3 1303.8,1001.3 1304.8,997.4 1305.8,1000.9 1306.8,998.3 1307.8,999.1 1308.9,999.8 1309.9,999.7 1310.9,997.2 1311.9,999.5 1312.9,999.4 1313.9,998.9 1314.9,999.5 1316.0,997.6 1317.0,998.1 1318.0,997.5 1319.0,999.2 1320.0,997.4 1321.0,998.7 1322.0,996.2 1323.1,998.1 1324.1,997.8 1325.1,998.1 1326.1,998.4 1327.1,998.0 1328.1,997.9 1329.1,995.6 1330.2,999.5 1331.2,997.0 1332.2,997.8 1333.2,997.2 1334.2,999.5 1335.2,997.1 1336.2,998.8 1337.3,999.7 1338.3,1000.3 1339.3,999.7 1340.3,1001.1 1341.3,996.7 1342.3,999.9 1343.3,999.8 1344.4,999.3 1345.4,999.2 1346.4,998.3 1347.4,997.6 1348.4,999.6 1349.4,999.8 1350.4,996.9 1351.5,999.3 1352.5,998.5 1353.5,1001.7 1354.5,998.5 1355.5,999.5 1356.5,999.5 1357.5,999.3 1358.6,996.5 1359.6,999.2 1360.6,998.2 1361.6,996.8 1362.6,999.1 1363.6,996.5 1364.7,999.3 1365.7,1000.3 1366.7,997.6 1367.7,999.3 1368.7,998.8 1369.7,999.0 1370.7,996.5 1371.8,998.9 1372.8,998.3 1373.8,999.1 1374.8,998.2 1375.8,999.6 1376.8,998.5 1377.8,999.0 1378.9,999.9 1379.9,998.4 1380.9,999.4 1381.9,1000.6 1382.9,998.8 1383.9,997.4 1384.9,999.0 1386.0,999.6 1387.0,998.0 1388.0,999.0 1389.0,998.6 1390.0,996.7 1391.0,998.5 1392.0,999.8 1393.1,997.6 1394.1,995.9 1395.1,998.4 1396.1,997.3 1397.1,1000.5 1398.1,998.1 1399.1,998.2 1400.2,997.4 1401.2,998.5 1402.2,997.5 1403.2,997.1 1404.2,998.2 1405.2,997.3 1406.2,999.9 1407.3,996.9 1408.3,998.3 1409.3,997.6 1410.3,996.8 1411.3,1000.5 1412.3,995.8 1413.3,1000.2 1414.4,996.7 1415.4,998.6 1416.4,1001.3 1417.4,995.9 1418.4,996.9 1419.4,1000.2 1420.4,998.8 1421.5,997.8 1422.5,998.5 1423.5,997.3 1424.5,998.6 1425.5,1000.3 1426.5,998.1 1427.5,998.7 1428.6,1000.0 1429.6,1001.0 1430.6,997.9 1431.6,999.1 1432.6,998.0 1433.6,996.0 1434.7,998.1 1435.7,997.8 1436.7,996.4 1437.7,996.1 1438.7,997.7 1439.7,998.8 1440.7,997.0 1441.8,997.9 1442.8,998.3 1443.8,999.3 1444.8,999.4 1445.8,998.4 1446.8,997.5 1447.8,1000.9 1448.9,998.2 1449.9,998.0 1450.9,999.3 1451.9,999.1 1452.9,998.2 1453.9,1000.8 1454.9,998.1 1456.0,999.5 1457.0,999.7 1458.0,1000.5 1459.0,996.8 1460.0,1000.3 1461.0,998.4 1462.0,998.3 1463.1,998.0 1464.1,997.9 1465.1,998.0 1466.1,995.5 1467.1,999.0 1468.1,998.5 1469.1,997.3 1470.2,998.3 1471.2,1001.2 1472.2,998.8 1473.2,997.9 1474.2,1000.5 1475.2,997.4 1476.2,998.2 1477.3,997.8 1478.3,998.2 1479.3,999.3 1480.3,999.2"/>
<polyline fill="none" stroke="#00ffff" stroke-width="4.3" stroke-linejoin="round" points="128.0,812.9 129.0,814.8 130.0,811.3 131.0,812.3 132.1,813.0 133.1,811.7 134.1,810.8 135.1,811.6 136.1,813.7 137.1,812.0 138.1,813.2 139.2,811.5 140.2,813.1 141.2,811.6 142.2,812.7 143.2,812.6 144.2,812.5 145.2,814.3 146.3,810.3 147.3,813.1 148.3,814.4 149.3,814.1 150.3,808.5 151.3,811.5 152.3,811.7 153.4,812.7 154.4,812.6 155.4,812.8 156.4,813.2 157.4,811.1 158.4,811.1 159.4,811.0 160.5,810.8 161.5,813.1 162.5,812.9 163.5,815.7 164.5,813.2 165.5,812.6 166.6,814.4 167.6,811.6 168.6,813.0 169.6,813.8 170.6,813.5 171.6,813.1 172.6,812.1 173.7,811.0 174.7,812.4 175.7,811.8 176.7,813.5 177.7,812.5 178.7,815.3 179.7,810.7 180.8,814.0 181.8,811.6 182.8,810.7 183.8,811.0 184.8,811.9 185.8,814.2 186.8,813.6 187.9,811.2 188.9,812.8 189.9,812.5 190.9,810.6 191.9,811.3 192.9,810.4 193.9,811.5 195.0,809.3 196.0,811.7 197.0,811.5 198.0,811.7 199.0,811.6 200.0,814.2 201.0,812.2 202.1,813.0 203.1,813.6 204.1,813.8 205.1,813.5 206.1,811.9 207.1,811.3 208.1,811.7 209.2,812.0 210.2,812.7 211.2,812.5 212.2,814.1 213.2,812.5 214.2,814.9 215.2,813.9 216.3,812.0 217.3,813.8 218.3,809.0 219.3,811.1 220.3,813.1 221.3,813.1 222.3,810.4 223.4,815.8 224.4,812.3 225.4,812.4 226.4,814.1 227.4,812.4 228.4,811.6 229.4,813.5 230.5,811.4 231.5,813.6 232.5,812.8 233.5,814.0 234.5,811.0 235.5,814.1 236.5,812.9 237.6,815.1 238.6,811.8 239.6,814.9 240.6,813.4 241.6,813.5 242.6,811.6 243.7,813.2 244.7,813.3 245.7,811.4 246.7,811.0 247.7,811.5 248.7,814.4 249.7,812.8 250.8,813.8 251.8,813.0 252.8,812.7 253.8,812.8 254.8,812.0 255.8,814.0 256.8,812.6 257.9,812.6 258.9,810.5 259.9,812.7 260.9,811.4 261.9,811.6 262.9,813.6 263.9,810.8 265.0,812.0 266.0,813.0 267.0,813.6 268.0,811.5 269.0,812.5 270.0,812.4 271.0,810.6 272.1,809.3 273.1,809.6 274.1,812.8 275.1,812.1 276.1,810.3 277.1,811.6 278.1,811.5 279.2,811.5 280.2,811.9 281.2,814.7 282.2,810.9 283.2,812.1 284.2,810.9 285.2,811.0 286.3,810.7 287.3,811.5 288.3,811.1 289.3,812.3 290.3,812.1 291.3,810.8 292.3,814.4 293.4,810.5 294.4,812.5 295.4,814.8 296.4,811.1 297.4,813.7 298.4,813.8 299.4,812.4 300.5,809.6 301.5,813.8 302.5,812.1 303.5,811.3 304.5,813.6 305.5,811.1 306.5,810.5 307.6,811.2 308.6,812.6 309.6,810.5 310.6,811.4 311.6,810.7 312.6,810.7 313.6,812.0 314.7,811.5 315.7,811.9 316.7,813.2 317.7,811.4 318.7,809.1 319.7,811.0 320.8,811.3 321.6,812.4 321.9,811.8 322.3,811.7 322.6,811.0 322.9,811.4 323.3,809.7 323.6,811.7 324.0,811.0 324.3,810.9 324.6,810.2 325.0,810.4 325.3,809.7 325.7,810.5 326.0,809.1 326.3,810.5 326.7,810.1 327.0,810.9 327.3,809.3 327.7,809.0 328.0,808.9 328.4,808.5 328.7,808.0 329.0,806.9 329.4,806.3 329.7,805.9 330.1,805.0 330.4,802.8 330.7,800.3 331.1,796.8 331.4,791.1 331.7,781.7 332.1,768.8 332.4,750.9 332.8,727.3 333.1,697.7 333.4,662.8 333.8,623.6 334.1,582.8 334.4,543.3 334.8,508.0 335.1,481.7 335.5,464.2 335.8,446.6 336.1,429.3 336.5,413.0 336.8,400.5 337.2,393.3 337.5,392.1 337.8,393.8 338.2,406.8 338.5,431.3 338.8,462.5 339.2,497.3 339.5,532.1 339.9,564.7 340.2,598.2 340.5,632.1 340.9,664.5 341.2,694.9 341.5,720.7 341.9,742.7 342.2,760.8 342.6,774.6 342.9,785.7 343.2,792.9 343.6,798.7 343.9,802.4 344.3,804.3 344.6,805.9 344.9,806.1 345.3,807.2 345.6,807.4 345.9,808.3 346.3,808.1 346.6,809.2 347.0,809.6 347.3,809.2 347.6,808.3 348.0,810.2 348.3,810.5 348.6,809.9 349.0,809.2 349.3,810.5 349.7,811.1 350.0,809.0 350.3,810.8 350.7,809.2 351.0,810.6 351.4,811.9 351.7,810.7 352.0,811.3 352.2,809.9 353.2,810.9 354.2,814.0 355.2,812.8 356.3,810.8 357.3,809.5 358.3,811.4 359.3,814.2 360.3,811.8 361.3,813.0 362.3,811.2 363.4,810.0 364.4,813.3 365.4,811.5 366.4,810.6 367.4,810.7 368.4,810.8 369.4,810.9 370.5,809.7 371.5,813.2 372.5,812.1 373.5,812.9 374.5,811.2 375.5,812.1 376.5,811.9 377.6,813.2 378.6,812.8 379.6,812.2 380.6,810.9 381.6,810.2 382.6,810.7 383.6,810.9 384.7,811.1 385.7,810.2 386.7,813.9 387.7,812.2 388.7,809.3 389.7,810.5 390.8,810.1 391.8,812.1 392.8,813.1 393.8,810.5 394.8,812.5 395.8,811.3 396.8,813.1 397.9,813.4 398.9,812.0 399.9,812.6 400.9,811.6 401.9,811.2 402.9,810.1 403.9,812.0 405.0,811.1 406.0,811.2 407.0,811.6 408.0,811.5 409.0,810.4 410.0,811.0 411.0,813.1 412.1,811.4 413.1,813.5 414.1,810.2 415.1,810.0 416.1,811.9 417.1,812.7 418.1,810.9 419.2,812.6 420.2,812.9 421.2,813.1 422.2,811.7 423.2,811.7 424.2,809.7 425.2,811.9 426.3,812.2 427.3,813.6 428.3,810.2 429.3,810.8 430.3,810.6 431.3,813.0 432.3,808.6 433.4,810.5 434.4,814.4 435.4,812.7 436.4,810.2 437.4,811.8 438.4,813.0 439.4,812.6 440.5,811.7 441.5,811.0 442.5,813.0 443.5,812.0 444.5,813.0 445.5,812.5 446.5,811.4 447.6,813.8 448.6,811.4 449.6,812.5 450.6,811.2 451.6,811.7 452.6,811.7 453.6,811.2 454.7,812.3 455.7,813.6 456.7,814.3 457.7,813.8 458.7,811.7 459.7,813.8 460.7,812.5 461.8,814.2 462.8,810.3 463.8,813.8 464.8,811.2 465.8,812.6 466.8,811.4 467.9,813.2 468.9,811.7 469.9,809.7 470.9,810.8 471.9,811.7 472.9,812.1 473.9,809.2 475.0,810.6 476.0,816.5 477.0,811.8 478.0,812.3 479.0,811.0 480.0,810.1 481.0,812.4 482.1,813.6 483.1,813.2 484.1,811.5 485.1,814.2 486.1,811.0 487.1,812.5 488.1,812.2 489.2,812.7 490.2,810.9 491.2,811.9 492.2,811.0 493.2,810.9 494.2,812.9 495.2,815.9 496.3,812.1 497.3,813.0 498.3,812.2 499.3,813.4 500.3,812.6 501.3,813.3 502.3,812.4 503.4,815.0 504.4,813.7 505.4,809.9 506.4,812.4 507.4,812.1 508.4,809.2 509.4,810.9 510.5,811.4 511.5,811.0 512.5,812.1 513.5,809.7 514.5,812.8 515.5,812.8 516.5,812.3 517.6,811.5 518.6,811.9 519.6,811.3 520.6,813.3 521.6,812.6 522.6,814.4 523.6,811.4 524.7,813.7 525.7,811.2 526.7,811.7 527.7,810.3 528.7,812.4 529.7,811.7 530.7,812.6 531.8,813.7 532.8,811.8 533.8,812.4 534.8,813.0 535.8,811.8 536.8,811.2 537.8,812.3 538.9,812.5 539.9,812.8 540.9,812.9 541.9,811.0 542.9,812.3 543.9,813.3 545.0,811.2 546.0,812.2 547.0,810.9 548.0,811.9 549.0,813.9 550.0,811.9 551.0,810.5 552.1,812.1 553.1,812.0 554.1,813.1 555.1,810.0 556.1,810.5 557.1,811.6 558.1,809.8 559.2,813.2 560.2,809.2 561.2,810.8 562.2,810.0 563.2,811.0 564.2,810.6 565.2,812.9 566.3,812.9 567.3,812.5 568.3,809.2 569.3,812.1 570.3,809.4 571.3,811.1 572.3,811.2 573.4,811.0 574.4,812.4 575.4,810.7 576.4,813.9 577.4,812.5 578.4,813.2 579.4,812.7 580.5,812.9 581.5,811.7 582.5,814.2 583.5,810.5 584.5,812.3 585.5,811.8 586.5,811.4 587.6,812.2 588.6,810.8 589.6,815.9 590.6,812.8 591.6,811.9 592.6,814.3 593.6,810.5 594.7,809.5 595.7,811.1 596.7,811.5 597.7,814.9 598.7,811.5 599.7,813.1 600.7,812.9 601.8,814.5 602.8,812.0 603.8,812.6 604.8,811.6 605.8,810.7 606.8,810.5 607.8,810.7 608.9,813.5 609.9,812.1 610.9,811.5 611.9,811.6 612.9,810.9 613.9,811.5 615.0,811.5 616.0,812.4 617.0,812.8 618.0,809.5 619.0,811.9 620.0,813.3 621.0,810.3 622.1,811.3 623.1,811.7 624.1,812.9 625.1,812.3 626.1,811.3 627.1,812.2 628.1,812.9 629.2,812.1 630.2,814.0 631.2,812.1 632.2,810.2 633.2,810.5 634.2,811.3 635.2,811.2 636.3,812.2 637.3,811.9 638.3,813.7 639.3,812.6 640.3,813.4 641.3,810.6 642.3,811.0 643.4,812.4 644.4,811.7 645.4,812.4 646.4,812.0 647.4,811.0 648.4,813.9 649.4,813.3 650.5,810.0 651.5,811.1 652.5,811.9 653.5,812.8 654.5,811.9 655.5,810.3 656.5,813.0 657.6,811.8 658.6,813.5 659.6,812.4 660.6,813.2 661.6,813.0 662.6,813.1 663.6,811.3 664.7,813.3 665.7,812.3 666.7,810.5 667.7,811.5 668.7,811.6 669.7,812.6 670.7,812.9 671.8,811.4 672.8,813.0 673.8,812.0 674.8,810.7 675.8,813.0 676.8,811.0 677.8,810.5 678.9,812.9 679.9,813.1 680.9,811.1 681.9,812.7 682.9,813.2 683.9,811.3 684.9,814.4 686.0,811.8 687.0,812.1 688.0,808.8 689.0,812.6 690.0,811.1 691.0,812.5 692.1,809.8 693.1,813.4 694.1,813.8 695.1,814.3 696.1,808.3 697.1,812.7 698.1,812.4 699.2,808.2 700.2,811.0 701.2,811.9 702.2,813.3 703.2,810.9 704.2,812.2 705.2,811.9 706.3,812.4 707.3,811.5 708.3,813.1 709.3,813.2 710.3,810.3 711.3,813.4 712.3,811.1 713.4,811.8 714.4,813.6 715.4,812.3 716.4,813.0 717.4,813.2 718.4,812.9 719.4,811.5 720.5,810.9 721.5,812.9 722.5,813.0 723.5,812.5 724.5,811.8 725.5,813.1 726.5,812.0 727.6,810.3 728.6,812.3 729.6,812.6 730.6,812.9 731.6,810.9 732.6,811.1 733.6,812.4 734.7,811.5 735.7,812.0 736.7,813.2 737.7,812.5 738.7,814.3 739.7,812.4 740.7,814.1 740.9,813.3 741.3,813.8 741.6,811.9 741.9,811.8 742.3,812.3 742.6,811.5 742.9,811.5 743.3,812.1 743.6,812.1 744.0,810.8 744.3,812.0 744.6,811.6 745.0,811.8 745.3,811.9 745.6,811.6 746.0,812.6 746.3,812.1 746.7,811.6 747.0,811.8 747.3,812.5 747.7,812.2 748.0,812.5 748.4,810.7 748.7,811.6 749.0,813.0 749.4,811.4 749.7,812.7 750.0,812.0 750.4,811.0 750.7,810.1 751.1,811.4 751.4,810.2 751.7,809.9 752.1,808.7 752.4,810.3 752.8,808.9 753.1,808.1 753.4,807.5 753.8,806.4 754.1,805.9 754.4,804.4 754.8,802.8 755.1,800.5 755.5,801.4 755.8,800.5 756.1,799.8 756.5,800.4 756.8,798.9 757.1,798.4 757.5,801.0 757.8,800.9 758.2,800.4 758.5,801.6 758.8,802.8 759.2,802.3 759.5,803.5 759.9,805.6 760.2,805.9 760.5,805.8 760.9,806.8 761.2,806.7 761.5,808.1 761.9,808.4 762.2,808.4 762.6,808.6 762.9,811.3 763.2,810.3 763.6,809.8 763.9,810.4 764.2,812.0 764.6,812.2 764.9,810.6 765.3,811.3 765.6,811.8 765.9,810.9 766.3,810.3 766.6,810.5 767.0,811.2 767.3,810.7 767.6,810.3 768.0,811.1 768.3,812.0 768.6,811.8 769.0,811.2 769.3,812.8 769.7,810.8 770.0,811.3 770.3,810.4 770.7,812.0 771.0,811.3 771.3,810.1 772.2,810.4 773.2,813.6 774.2,814.1 775.2,811.6 776.3,812.5 777.3,809.5 778.3,810.4 779.3,809.8 780.3,810.4 781.3,811.0 782.3,812.2 783.4,812.7 784.4,812.6 785.4,814.7 786.4,810.7 787.4,811.3 788.4,812.0 789.4,810.4 790.5,811.0 791.5,811.9 792.5,810.2 793.5,811.9 794.5,812.8 795.5,809.9 796.5,808.4 797.6,811.4 798.6,807.1 799.6,811.5 800.6,810.8 801.6,811.7 802.6,812.6 803.6,812.2 804.7,810.8 805.7,809.8 806.7,808.2 807.7,808.6 808.7,810.3 809.7,811.4 810.7,810.5 811.8,812.7 812.8,809.3 813.8,809.3 814.8,807.7 815.8,812.0 816.8,808.7 817.8,812.0 818.9,810.2 819.9,812.0 820.9,811.6 821.9,812.2 822.9,812.8 823.9,810.3 824.9,810.1 826.0,810.7 827.0,810.3 828.0,812.0 829.0,811.0 830.0,811.2 831.0,811.7 832.0,810.6 833.1,812.6 834.1,809.0 835.1,811.6 836.1,811.9 837.1,810.3 838.1,810.4 839.2,812.4 840.2,810.9 841.2,808.9 842.2,809.6 843.2,812.5 844.2,810.1 845.2,812.8 846.3,815.0 847.3,811.0 848.3,812.0 849.3,810.3 850.3,810.8 851.3,809.0 852.3,812.0 853.4,809.6 854.4,811.1 855.4,811.3 856.4,811.9 857.4,809.8 858.4,809.1 859.4,813.7 860.5,811.0 861.5,811.4 862.5,811.5 863.5,813.8 864.5,812.1 865.5,812.0 866.5,810.7 867.6,812.3 868.6,812.3 869.6,812.2 870.6,811.2 871.6,812.2 872.6,813.4 873.6,810.6 874.7,808.9 875.7,812.6 876.7,812.4 877.7,811.2 878.7,811.0 879.7,814.9 880.7,810.9 881.8,809.9 882.8,810.8 883.8,812.0 884.8,810.7 885.8,811.0 886.8,811.9 887.8,811.0 888.9,811.7 889.9,811.4 890.9,810.2 891.9,811.6 892.9,810.0 893.9,812.6 894.9,810.3 896.0,811.1 897.0,809.1 898.0,810.8 899.0,809.8 900.0,813.2 901.0,811.2 902.0,812.0 903.1,809.2 904.1,809.8 905.1,811.1 906.1,809.6 907.1,812.7 908.1,810.8 909.1,811.5 910.2,811.7 911.2,811.1 912.2,812.3 913.2,810.4 914.2,811.7 915.2,812.7 916.3,811.5 917.3,811.5 918.3,810.9 919.3,811.4 920.3,812.1 921.3,810.9 922.3,809.2 923.4,811.5 924.4,811.1 925.4,811.9 926.4,811.4 927.4,813.2 928.4,809.8 929.4,810.1 930.5,812.1 931.5,810.1 932.5,811.7 933.5,811.3 934.5,808.9 935.5,812.1 936.5,811.0 937.6,811.5 938.6,809.5 939.6,812.1 940.6,809.8 941.6,810.9 942.6,811.6 943.6,810.1 944.7,809.0 945.7,810.9 946.7,811.0 947.7,810.0 948.7,810.1 949.7,811.9 950.7,810.9 951.8,810.4 952.8,810.2 953.8,811.2 954.8,811.0 955.8,810.7 956.8,809.2 957.8,810.4 958.9,810.1 959.9,811.0 960.9,812.3 961.9,812.0 962.9,811.7 963.9,807.7 964.9,810.6 966.0,811.4 967.0,810.5 968.0,810.6 969.0,810.0 970.0,810.9 971.0,810.8 972.0,813.1 973.1,811.6 974.1,810.4 975.1,811.8 976.1,810.2 977.1,812.1 978.1,811.8 979.1,814.4 980.2,809.6 981.2,810.8 982.2,810.8 983.2,811.3 984.2,811.9 985.2,809.9 986.3,808.4 987.3,811.4 988.3,812.3 989.3,809.8 990.3,809.3 991.3,812.6 992.3,812.2 993.4,812.5 994.4,810.0 995.4,810.9 996.4,811.5 997.4,811.7 998.4,811.1 999.4,811.2 1000.5,812.6 1001.5,810.8 1002.5,810.7 1003.5,810.8 1004.5,810.7 1005.5,811.5 1006.5,811.1 1007.6,810.9 1008.6,813.1 1009.6,811.8 1010.6,811.0 1011.6,812.9 1012.6,810.7 1013.6,811.4 1014.7,811.3 1015.7,810.7 1016.7,811.0 1017.7,811.5 1018.7,809.7 1019.7,810.9 1020.7,811.7 1021.8,811.7 1022.8,811.7 1023.8,814.2 1024.8,812.2 1025.8,811.2 1026.8,811.2 1027.8,811.4 1028.9,812.0 1029.9,811.1 1030.9,813.3 1031.9,810.1 1032.9,812.2 1033.9,812.1 1034.9,810.2 1036.0,812.3 1037.0,812.2 1038.0,810.8 1039.0,814.3 1040.0,812.4 1041.0,811.2 1042.0,811.0 1043.1,810.7 1044.1,812.8 1045.1,811.7 1046.1,810.0 1047.1,810.4 1048.1,810.7 1049.1,811.0 1050.2,811.1 1051.2,810.7 1052.2,812.3 1053.2,813.7 1054.2,811.7 1055.2,809.0 1056.2,811.4 1057.3,812.2 1058.3,811.4 1059.3,811.8 1060.3,811.6 1061.3,809.7 1062.3,808.5 1063.4,812.2 1064.4,810.8 1065.4,811.9 1066.4,811.0 1067.4,809.9 1068.4,812.9 1069.4,809.9 1070.5,811.2 1071.5,809.9 1072.5,811.3 1073.5,811.7 1074.5,811.9 1075.5,811.2 1076.5,809.4 1077.6,811.4 1078.6,812.1 1079.6,812.3 1080.6,813.6 1081.6,811.8 1082.6,809.9 1083.6,814.1 1084.7,811.2 1085.7,812.3 1086.7,809.6 1087.7,812.1 1088.7,811.8 1089.7,810.0 1090.7,813.9 1091.8,810.0 1092.8,810.9 1093.8,810.6 1094.8,811.2 1095.8,809.5 1096.8,811.5 1097.8,808.4 1098.9,810.4 1099.9,811.0 1100.9,812.7 1101.9,811.4 1102.9,810.2 1103.9,809.6 1104.9,810.7 1106.0,811.3 1107.0,813.3 1108.0,807.4 1109.0,810.7 1110.0,807.7 1111.0,811.7 1112.0,809.5 1113.1,812.3 1114.1,809.8 1115.1,811.7 1116.1,810.6 1117.1,811.7 1118.1,810.2 1119.1,806.6 1120.2,808.3 1120.5,808.9 1120.8,810.6 1121.2,810.3 1121.5,809.9 1121.9,810.1 1122.2,809.9 1122.5,809.4 1122.9,811.1 1123.2,809.8 1123.5,809.5 1123.9,808.6 1124.2,809.1 1124.6,809.4 1124.9,809.2 1125.2,809.0 1125.6,809.2 1125.9,808.3 1126.2,809.0 1126.6,807.8 1126.9,808.2 1127.3,808.1 1127.6,809.1 1127.9,808.7 1128.3,808.2 1128.6,807.2 1129.0,807.5 1129.3,807.9 1129.6,807.8 1130.0,805.6 1130.3,805.6 1130.6,805.0 1131.0,803.9 1131.3,802.0 1131.7,800.0 1132.0,795.8 1132.3,792.8 1132.7,786.4 1133.0,779.6 1133.3,770.9 1133.7,760.6 1134.0,748.4 1134.4,734.8 1134.7,720.6 1135.0,705.3 1135.4,690.9 1135.7,678.0 1136.1,666.9 1136.4,659.3 1136.7,656.1 1137.1,656.7 1137.4,661.0 1137.7,667.9 1138.1,676.8 1138.4,686.4 1138.8,695.7 1139.1,703.3 1139.4,710.1 1139.8,714.9 1140.1,718.1 1140.5,719.8 1140.8,720.8 1141.1,721.8 1141.5,722.9 1141.8,726.3 1142.1,730.0 1142.5,735.5 1142.8,741.9 1143.2,749.5 1143.5,757.9 1143.8,765.3 1144.2,772.4 1144.5,779.0 1144.8,785.3 1145.2,790.3 1145.5,795.0 1145.9,797.5 1146.2,800.7 1146.5,803.0 1146.9,804.1 1147.2,806.2 1147.6,805.7 1147.9,806.2 1148.2,807.3 1148.6,808.4 1148.9,808.0 1149.2,808.0 1149.6,809.1 1149.9,808.9 1150.3,808.5 1150.6,809.1 1150.9,808.9 1151.6,810.0 1152.6,809.8 1153.6,808.9 1154.7,809.4 1155.7,809.6 1156.7,810.6 1157.7,810.6 1158.7,809.3 1159.7,810.1 1160.7,810.9 1161.8,811.9 1162.8,810.9 1163.8,813.0 1164.8,810.8 1165.8,811.6 1166.8,810.4 1167.8,809.6 1168.9,811.0 1169.9,811.5 1170.9,810.6 1171.9,811.2 1172.9,810.7 1173.9,810.1 1174.9,810.8 1176.0,811.8 1177.0,812.4 1178.0,807.3 1179.0,812.0 1180.0,812.5 1181.0,812.7 1182.0,811.6 1183.1,812.0 1184.1,810.7 1185.1,811.1 1186.1,811.8 1187.1,812.2 1188.1,810.2 1189.1,811.4 1190.2,809.5 1191.2,811.2 1192.2,809.4 1193.2,811.4 1194.2,811.2 1195.2,810.5 1196.2,810.1 1197.3,810.6 1198.3,808.5 1199.3,810.7 1200.3,811.3 1201.3,812.6 1202.3,812.3 1203.3,810.9 1204.4,812.8 1205.4,810.0 1206.4,810.5 1207.4,812.4 1208.4,812.6 1209.4,811.7 1210.5,809.9 1211.5,810.0 1212.5,811.8 1213.5,814.0 1214.5,810.9 1215.5,813.0 1216.5,813.5 1217.6,809.7 1218.6,810.5 1219.6,813.1 1220.6,812.4 1221.6,812.0 1222.6,811.3 1223.6,812.0 1224.7,810.5 1225.7,814.2 1226.7,809.8 1227.7,809.1 1228.7,811.3 1229.7,812.9 1230.7,810.6 1231.8,811.1 1232.8,810.0 1233.8,811.1 1234.8,809.9 1235.8,809.9 1236.8,809.4 1237.8,810.6 1238.9,815.3 1239.9,811.2 1240.9,811.5 1241.9,814.0 1242.9,810.5 1243.9,810.1 1244.9,811.9 1246.0,809.8 1247.0,811.6 1248.0,812.6 1249.0,809.9 1250.0,810.5 1251.0,813.2 1252.0,809.9 1253.1,810.3 1254.1,811.4 1255.1,810.6 1256.1,809.9 1257.1,812.9 1258.1,810.2 1259.1,813.1 1260.2,810.5 1261.2,810.7 1262.2,809.3 1263.2,812.1 1264.2,810.5 1265.2,812.5 1266.2,809.5 1267.3,810.4 1268.3,811.5 1269.3,811.8 1270.3,810.2 1271.3,810.8 1272.3,809.4 1273.3,811.0 1274.4,807.7 1275.4,811.1 1276.4,812.5 1277.4,811.9 1278.4,811.9 1279.4,810.4 1280.4,811.5 1281.5,810.4 1282.5,810.8 1283.5,810.8 1284.5,806.9 1285.5,812.0 1286.5,811.2 1287.6,812.0 1288.6,809.8 1289.6,811.8 1290.6,811.6 1291.6,808.3 1292.6,808.9 1293.6,811.1 1294.7,810.2 1295.7,811.0 1296.7,810.2 1297.7,812.7 1298.7,808.6 1299.7,809.2 1300.7,809.7 1301.8,809.2 1302.8,810.2 1303.8,810.9 1304.8,809.3 1305.8,811.3 1306.8,812.5 1307.8,812.2 1308.9,813.3 1309.9,812.2 1310.9,810.8 1311.9,813.0 1312.9,811.7 1313.9,813.1 1314.9,810.6 1316.0,808.3 1317.0,809.4 1318.0,811.0 1319.0,811.4 1320.0,810.8 1321.0,811.9 1322.0,809.4 1323.1,809.8 1324.1,811.9 1325.1,810.8 1326.1,810.9 1327.1,812.5 1328.1,812.1 1329.1,809.9 1330.2,811.1 1331.2,808.8 1332.2,810.8 1333.2,811.3 1334.2,808.7 1335.2,812.7 1336.2,813.3 1337.3,811.5 1338.3,811.9 1339.3,812.6 1340.3,806.9 1341.3,812.0 1342.3,811.2 1343.3,808.9 1344.4,809.6 1345.4,810.0 1346.4,812.0 1347.4,810.9 1348.4,812.0 1349.4,810.3 1350.4,809.3 1351.5,813.3 1352.5,814.0 1353.5,811.3 1354.5,810.6 1355.5,812.3 1356.5,809.6 1357.5,810.7 1358.6,809.3 1359.6,811.6 1360.6,811.3 1361.6,810.6 1362.6,810.3 1363.6,809.2 1364.7,810.1 1365.7,812.5 1366.7,810.3 1367.7,812.6 1368.7,810.1 1369.7,811.0 1370.7,810.5 1371.8,810.8 1372.8,812.0 1373.8,808.7 1374.8,809.6 1375.8,812.0 1376.8,811.2 1377.8,811.3 1378.9,811.0 1379.9,812.1 1380.9,811.3 1381.9,810.2 1382.9,811.4 1383.9,812.4 1384.9,812.6 1386.0,811.3 1387.0,811.5 1388.0,810.6 1389.0,810.6 1390.0,808.9 1391.0,810.9 1392.0,812.3 1393.1,810.6 1394.1,810.0 1395.1,812.1 1396.1,811.2 1397.1,811.2 1398.1,811.6 1399.1,811.9 1400.2,811.1 1401.2,810.2 1402.2,813.3 1403.2,811.3 1404.2,810.4 1405.2,809.0 1406.2,812.7 1407.3,809.7 1408.3,812.9 1409.3,811.2 1410.3,813.7 1411.3,812.1 1412.3,811.2 1413.3,812.9 1414.4,809.7 1415.4,810.9 1416.4,811.6 1417.4,810.7 1418.4,812.4 1419.4,809.6 1420.4,810.9 1421.5,808.8 1422.5,812.0 1423.5,808.6 1424.5,810.0 1425.5,811.6 1426.5,810.9 1427.5,810.8 1428.6,810.2 1429.6,810.8 1430.6,809.3 1431.6,811.7 1432.6,812.3 1433.6,812.3 1434.7,811.4 1435.7,812.9 1436.7,812.0 1437.7,812.5 1438.7,811.8 1439.7,810.6 1440.7,810.5 1441.8,808.3 1442.8,812.2 1443.8,811.4 1444.8,813.9 1445.8,809.2 1446.8,812.6 1447.8,810.4 1448.9,811.5 1449.9,810.5 1450.9,811.9 1451.9,811.5 1452.9,812.6 1453.9,811.7 1454.9,812.1 1456.0,813.0 1457.0,812.0 1458.0,811.2 1459.0,812.8 1460.0,810.6 1461.0,811.9 1462.0,811.0 1463.1,810.5 1464.1,807.7 1465.1,812.1 1466.1,809.9 1467.1,812.1 1468.1,813.3 1469.1,809.6 1470.2,812.1 1471.2,810.9 1472.2,811.6 1473.2,809.6 1474.2,811.1 1475.2,811.2 1476.2,812.7 1477.3,813.6 1478.3,814.3 1479.3,810.6 1480.3,813.7"/>
<polyline fill="none" stroke="#00ff00" stroke-width="4.3" stroke-linejoin="round" points="128.0,749.7 129.0,748.1 130.0,748.4 131.0,750.1 132.1,748.5 133.1,747.4 134.1,749.3 135.1,748.5 136.1,750.8 137.1,749.3 138.1,747.7 139.2,747.4 140.2,750.1 141.2,748.5 142.2,748.8 143.2,747.1 144.2,748.5 145.2,749.5 146.3,748.9 147.3,749.0 148.3,745.6 149.3,749.9 150.3,747.4 151.3,749.3 152.3,747.1 153.4,749.9 154.4,747.9 155.4,748.3 156.4,750.5 157.4,749.8 158.4,746.9 159.4,747.7 160.5,748.8 161.5,748.3 162.5,749.6 163.5,747.8 164.5,746.3 165.5,747.5 166.6,749.5 167.6,749.3 168.6,749.5 169.6,750.2 170.6,748.9 171.6,748.3 172.6,749.4 173.7,748.4 174.7,748.0 175.7,751.6 176.7,749.7 177.7,750.5 178.7,750.3 179.7,746.7 180.8,750.0 181.8,747.2 182.8,748.2 183.8,749.4 184.8,747.1 185.8,747.2 186.8,747.8 187.9,750.9 188.9,750.4 189.9,747.7 190.9,749.0 191.9,748.9 192.9,749.2 193.9,747.3 195.0,750.6 196.0,748.3 197.0,749.9 198.0,746.8 199.0,749.4 200.0,749.1 201.0,750.5 202.1,745.6 203.1,749.5 204.1,749.8 205.1,748.5 206.1,750.5 207.1,751.5 208.1,750.0 209.2,749.8 210.2,750.6 211.2,749.4 212.2,750.4 213.2,749.6 214.2,748.0 215.2,747.5 216.3,750.3 217.3,749.5 218.3,747.9 219.3,748.8 220.3,750.6 221.3,746.6 222.3,747.6 223.4,749.6 224.4,749.7 225.4,749.7 226.4,747.5 227.4,748.9 228.4,750.5 229.4,748.7 230.5,745.8 231.5,750.0 232.5,748.7 233.5,748.1 234.5,747.2 235.5,750.2 236.5,749.0 237.6,749.2 238.6,749.1 239.6,749.3 240.6,749.8 241.6,750.9 242.6,747.4 243.7,748.6 244.7,748.2 245.7,750.8 246.7,748.4 247.7,746.7 248.7,748.7 249.7,747.8 250.8,747.8 251.8,748.2 252.8,747.1 253.8,746.3 254.8,751.2 255.8,747.5 256.8,747.6 257.9,749.6 258.9,750.5 259.9,746.7 260.9,748.3 261.9,749.2 262.9,747.8 263.9,749.4 265.0,747.2 266.0,747.9 267.0,748.6 268.0,749.2 269.0,748.7 270.0,747.8 271.0,748.3 272.1,746.1 273.1,751.5 274.1,748.3 275.1,748.4 276.1,749.1 277.1,749.4 278.1,748.9 279.2,747.9 280.2,746.6 281.2,748.5 282.2,747.7 283.2,748.0 284.2,748.7 285.2,749.0 286.3,750.3 287.3,748.5 288.3,746.5 289.3,749.3 290.3,749.7 291.3,746.5 292.3,749.3 293.4,748.8 294.4,747.9 295.4,748.8 296.4,749.1 297.4,749.4 298.4,750.1 299.4,748.6 300.5,748.6 301.5,751.6 302.5,747.3 303.5,748.3 304.5,748.2 305.5,749.5 306.5,749.9 307.6,746.9 308.6,750.0 309.6,747.0 310.6,751.7 311.6,747.6 312.6,749.7 313.6,748.0 314.7,749.1 315.7,747.3 316.7,748.3 317.7,748.1 318.7,748.1 319.7,748.8 320.8,747.1 321.6,747.1 321.9,746.4 322.3,747.2 322.6,746.9 322.9,747.7 323.3,747.4 323.6,746.3 324.0,747.0 324.3,747.4 324.6,746.2 325.0,745.3 325.3,747.6 325.7,746.1 326.0,745.9 326.3,746.8 326.7,744.3 327.0,744.7 327.3,742.8 327.7,743.9 328.0,743.3 328.4,742.0 328.7,741.2 329.0,740.5 329.4,739.0 329.7,737.8 330.1,733.6 330.4,728.5 330.7,720.7 331.1,708.6 331.4,691.3 331.7,666.7 332.1,634.0 332.4,591.5 332.8,540.3 333.1,481.3 333.4,416.8 333.8,352.0 334.1,292.2 334.4,242.0 334.8,208.0 335.1,181.4 335.5,153.2 335.8,126.1 336.1,103.4 336.5,87.2 336.8,80.9 337.2,80.6 337.5,91.6 337.8,121.6 338.2,166.5 338.5,220.0 338.8,276.1 339.2,329.8 339.5,381.9 339.9,436.2 340.2,489.3 340.5,539.5 340.9,584.2 341.2,622.8 341.5,654.7 341.9,680.0 342.2,698.7 342.6,713.7 342.9,722.7 343.2,730.5 343.6,734.3 343.9,737.9 344.3,739.2 344.6,741.7 344.9,742.5 345.3,742.5 345.6,743.1 345.9,744.5 346.3,745.1 346.6,745.3 347.0,744.8 347.3,745.4 347.6,746.3 348.0,746.4 348.3,746.9 348.6,746.4 349.0,746.0 349.3,746.9 349.7,747.1 350.0,746.6 350.3,747.4 350.7,746.6 351.0,747.5 351.4,747.0 351.7,749.0 352.0,749.0 352.2,747.9 353.2,746.3 354.2,746.6 355.2,749.1 356.3,748.2 357.3,749.1 358.3,746.6 359.3,746.8 360.3,748.8 361.3,748.5 362.3,747.2 363.4,747.9 364.4,749.9 365.4,748.4 366.4,749.7 367.4,751.0 368.4,749.4 369.4,749.2 370.5,748.4 371.5,750.6 372.5,747.3 373.5,747.7 374.5,749.1 375.5,747.3 376.5,750.3 377.6,748.4 378.6,749.8 379.6,748.8 380.6,748.8 381.6,749.2 382.6,746.7 383.6,747.8 384.7,748.6 385.7,752.0 386.7,750.2 387.7,750.1 388.7,747.9 389.7,750.4 390.8,750.9 391.8,750.3 392.8,752.7 393.8,747.7 394.8,748.0 395.8,749.0 396.8,748.1 397.9,749.4 398.9,750.0 399.9,749.3 400.9,749.5 401.9,749.9 402.9,750.3 403.9,748.5 405.0,748.5 406.0,750.9 407.0,749.0 408.0,748.3 409.0,749.7 410.0,748.9 411.0,749.4 412.1,749.2 413.1,750.1 414.1,750.4 415.1,748.3 416.1,747.7 417.1,751.2 418.1,748.3 419.2,747.2 420.2,746.8 421.2,749.1 422.2,748.3 423.2,746.8 424.2,747.9 425.2,747.8 426.3,750.4 427.3,749.5 428.3,749.2 429.3,747.6 430.3,748.9 431.3,750.0 432.3,749.4 433.4,750.5 434.4,749.3 435.4,750.1 436.4,751.1 437.4,748.5 438.4,750.9 439.4,749.7 440.5,750.2 441.5,747.9 442.5,747.9 443.5,749.0 444.5,748.3 445.5,750.1 446.5,749.8 447.6,750.8 448.6,750.1 449.6,747.9 450.6,750.5 451.6,748.5 452.6,748.5 453.6,749.4 454.7,749.3 455.7,750.6 456.7,752.8 457.7,749.9 458.7,751.1 459.7,749.0 460.7,749.7 461.8,748.6 462.8,748.7 463.8,750.9 464.8,749.8 465.8,749.8 466.8,748.3 467.9,751.5 468.9,750.0 469.9,748.6 470.9,749.4 471.9,750.2 472.9,750.3 473.9,751.2 475.0,748.1 476.0,748.8 477.0,751.3 478.0,752.2 479.0,746.8 480.0,749.8 481.0,747.4 482.1,748.3 483.1,748.2 484.1,749.1 485.1,747.8 486.1,750.4 487.1,749.2 488.1,749.0 489.2,750.4 490.2,748.9 491.2,747.7 492.2,749.3 493.2,752.0 494.2,749.4 495.2,749.9 496.3,749.0 497.3,749.0 498.3,749.9 499.3,746.0 500.3,747.7 501.3,748.5 502.3,748.9 503.4,751.0 504.4,752.7 505.4,750.0 506.4,749.7 507.4,750.0 508.4,751.0 509.4,747.9 510.5,748.5 511.5,749.4 512.5,749.6 513.5,746.9 514.5,749.8 515.5,747.2 516.5,750.2 517.6,750.3 518.6,746.5 519.6,750.0 520.6,749.6 521.6,748.6 522.6,750.5 523.6,751.8 524.7,749.9 525.7,747.8 526.7,747.4 527.7,747.7 528.7,747.8 529.7,750.5 530.7,749.4 531.8,749.0 532.8,750.1 533.8,749.1 534.8,749.1 535.8,748.0 536.8,748.2 537.8,749.0 538.9,747.5 539.9,751.1 540.9,749.2 541.9,748.4 542.9,750.3 543.9,747.8 545.0,750.2 546.0,749.3 547.0,751.5 548.0,748.5 549.0,748.6 550.0,748.0 551.0,747.5 552.1,749.3 553.1,747.7 554.1,749.3 555.1,748.2 556.1,750.3 557.1,745.8 558.1,749.5 559.2,749.1 560.2,749.1 561.2,748.3 562.2,751.3 563.2,748.6 564.2,749.7 565.2,748.8 566.3,748.7 567.3,746.3 568.3,749.9 569.3,747.7 570.3,748.4 571.3,747.2 572.3,749.5 573.4,744.4 574.4,748.1 575.4,749.8 576.4,748.9 577.4,749.4 578.4,748.7 579.4,749.4 580.5,749.0 581.5,747.5 582.5,749.2 583.5,748.5 584.5,748.7 585.5,749.3 586.5,748.2 587.6,747.6 588.6,750.3 589.6,751.2 590.6,748.4 591.6,750.3 592.6,749.4 593.6,748.1 594.7,747.9 595.7,748.6 596.7,748.4 597.7,748.5 598.7,748.8 599.7,747.5 600.7,750.0 601.8,747.6 602.8,747.7 603.8,750.2 604.8,750.0 605.8,750.8 606.8,749.2 607.8,748.2 608.9,750.5 609.9,748.9 610.9,748.9 611.9,751.1 612.9,749.5 613.9,746.1 615.0,749.7 616.0,746.1 617.0,750.1 618.0,747.1 619.0,749.9 620.0,752.1 621.0,748.7 622.1,747.5 623.1,751.4 624.1,748.4 625.1,747.5 626.1,750.5 627.1,745.4 628.1,747.1 629.2,747.3 630.2,748.1 631.2,746.4 632.2,750.0 633.2,750.3 634.2,748.9 635.2,748.5 636.3,747.1 637.3,749.6 638.3,748.2 639.3,749.8 640.3,750.3 641.3,749.0 642.3,746.3 643.4,747.8 644.4,750.6 645.4,749.3 646.4,750.6 647.4,746.0 648.4,751.2 649.4,748.5 650.5,746.7 651.5,748.0 652.5,750.0 653.5,749.5 654.5,748.1 655.5,749.2 656.5,750.3 657.6,747.4 658.6,749.1 659.6,750.0 660.6,747.8 661.6,750.3 662.6,748.6 663.6,749.3 664.7,749.8 665.7,749.0 666.7,748.2 667.7,747.8 668.7,748.8 669.7,748.8 670.7,750.3 671.8,748.5 672.8,749.0 673.8,750.7 674.8,749.0 675.8,749.1 676.8,750.6 677.8,748.8 678.9,749.2 679.9,749.7 680.9,752.7 681.9,747.4 682.9,746.9 683.9,748.5 684.9,750.2 686.0,750.0 687.0,750.8 688.0,750.9 689.0,748.0 690.0,747.0 691.0,748.2 692.1,748.4 693.1,747.8 694.1,749.9 695.1,747.7 696.1,749.5 697.1,749.8 698.1,746.6 699.2,747.0 700.2,750.4 701.2,749.9 702.2,748.9 703.2,747.4 704.2,747.9 705.2,748.8 706.3,750.3 707.3,749.4 708.3,748.5 709.3,749.1 710.3,749.8 711.3,746.6 712.3,747.1 713.4,747.7 714.4,750.3 715.4,750.2 716.4,747.9 717.4,748.9 718.4,747.9 719.4,748.3 720.5,748.9 721.5,748.3 722.5,748.0 723.5,747.3 724.5,746.8 725.5,748.6 726.5,749.1 727.6,749.6 728.6,747.8 729.6,748.0 730.6,750.4 731.6,749.4 732.6,750.0 733.6,748.2 734.7,748.0 735.7,747.4 736.7,750.1 737.7,747.4 738.7,746.6 739.7,747.8 740.7,750.3 740.9,748.8 741.3,748.9 741.6,748.8 741.9,748.7 742.3,748.6 742.6,747.7 742.9,750.0 743.3,748.6 743.6,749.6 744.0,747.5 744.3,749.1 744.6,747.8 745.0,747.7 745.3,748.8 745.6,749.3 746.0,749.6 746.3,749.5 746.7,748.3 747.0,749.0 747.3,748.0 747.7,748.0 748.0,748.5 748.4,748.2 748.7,748.8 749.0,746.8 749.4,748.9 749.7,747.5 750.0,748.7 750.4,748.2 750.7,746.1 751.1,746.3 751.4,745.9 751.7,743.8 752.1,742.3 752.4,740.5 752.8,738.5 753.1,735.5 753.4,731.4 753.8,727.8 754.1,723.7 754.4,719.3 754.8,715.1 755.1,711.5 755.5,709.0 755.8,707.4 756.1,706.8 756.5,707.0 756.8,708.1 757.1,710.1 757.5,711.8 757.8,714.2 758.2,715.7 758.5,717.9 758.8,719.9 759.2,722.6 759.5,724.9 759.9,727.2 760.2,730.0 760.5,733.0 760.9,735.1 761.2,736.9 761.5,738.8 761.9,741.8 762.2,743.1 762.6,744.6 762.9,745.9 763.2,747.9 763.6,746.9 763.9,748.0 764.2,747.8 764.6,747.9 764.9,748.7 765.3,746.7 765.6,749.4 765.9,748.9 766.3,748.0 766.6,747.2 767.0,748.0 767.3,749.1 767.6,747.4 768.0,748.0 768.3,748.9 768.6,750.1 769.0,749.4 769.3,748.7 769.7,749.3 770.0,748.9 770.3,748.7 770.7,749.2 771.0,747.4 771.3,749.7 772.2,749.7 773.2,748.6 774.2,748.1 775.2,747.6 776.3,749.5 777.3,749.4 778.3,749.4 779.3,751.3 780.3,747.6 781.3,748.3 782.3,748.3 783.4,750.4 784.4,748.9 785.4,748.1 786.4,749.5 787.4,749.8 788.4,751.3 789.4,749.6 790.5,748.8 791.5,748.7 792.5,748.4 793.5,750.1 794.5,750.5 795.5,749.2 796.5,749.3 797.6,751.1 798.6,749.5 799.6,750.0 800.6,748.0 801.6,748.6 802.6,746.6 803.6,747.6 804.7,749.7 805.7,750.8 806.7,748.9 807.7,747.8 808.7,749.3 809.7,750.6 810.7,749.0 811.8,750.3 812.8,749.1 813.8,747.6 814.8,748.0 815.8,748.8 816.8,752.7 817.8,749.9 818.9,748.8 819.9,749.5 820.9,749.4 821.9,748.6 822.9,749.1 823.9,748.9 824.9,750.2 826.0,751.2 827.0,750.9 828.0,748.9 829.0,750.1 830.0,748.3 831.0,747.9 832.0,749.4 833.1,750.1 834.1,749.2 835.1,750.3 836.1,750.3 837.1,750.2 838.1,749.0 839.2,747.6 840.2,751.5 841.2,748.7 842.2,750.2 843.2,751.1 844.2,748.9 845.2,751.6 846.3,750.2 847.3,749.3 848.3,748.8 849.3,748.1 850.3,747.7 851.3,750.0 852.3,748.7 853.4,748.8 854.4,749.9 855.4,748.9 856.4,750.1 857.4,748.5 858.4,748.6 859.4,750.4 860.5,748.5 861.5,750.1 862.5,749.9 863.5,749.3 864.5,747.2 865.5,747.6 866.5,747.9 867.6,747.7 868.6,750.4 869.6,748.2 870.6,747.8 871.6,748.7 872.6,749.2 873.6,747.2 874.7,750.0 875.7,750.1 876.7,748.5 877.7,749.4 878.7,747.3 879.7,748.5 880.7,749.0 881.8,749.2 882.8,750.6 883.8,748.7 884.8,747.9 885.8,749.4 886.8,749.3 887.8,749.6 888.9,748.6 889.9,749.2 890.9,748.3 891.9,749.7 892.9,745.5 893.9,748.2 894.9,750.3 896.0,748.0 897.0,748.9 898.0,751.6 899.0,748.5 900.0,750.1 901.0,748.3 902.0,750.2 903.1,747.1 904.1,747.4 905.1,749.2 906.1,750.8 907.1,751.1 908.1,748.0 909.1,749.1 910.2,748.5 911.2,746.5 912.2,750.1 913.2,748.8 914.2,751.0 915.2,749.6 916.3,748.6 917.3,748.4 918.3,749.0 919.3,749.8 920.3,748.7 921.3,752.7 922.3,749.9 923.4,747.8 924.4,749.3 925.4,750.7 926.4,749.8 927.4,748.8 928.4,748.4 929.4,748.2 930.5,747.8 931.5,748.6 932.5,749.5 933.5,748.5 934.5,751.2 935.5,749.7 936.5,748.7 937.6,749.2 938.6,751.1 939.6,747.3 940.6,749.7 941.6,752.7 942.6,750.6 943.6,748.2 944.7,749.3 945.7,748.9 946.7,752.7 947.7,748.4 948.7,748.9 949.7,748.9 950.7,747.6 951.8,745.3 952.8,749.1 953.8,749.9 954.8,748.7 955.8,749.9 956.8,750.2 957.8,750.2 958.9,747.2 959.9,751.2 960.9,750.4 961.9,750.3 962.9,749.3 963.9,748.4 964.9,748.7 966.0,749.9 967.0,750.5 968.0,748.6 969.0,750.4 970.0,748.8 971.0,750.1 972.0,749.3 973.1,750.5 974.1,751.8 975.1,749.8 976.1,748.9 977.1,749.0 978.1,750.3 979.1,748.9 980.2,750.7 981.2,748.2 982.2,750.6 983.2,748.9 984.2,748.4 985.2,748.6 986.3,750.0 987.3,748.6 988.3,750.4 989.3,747.1 990.3,748.8 991.3,749.4 992.3,747.3 993.4,748.8 994.4,747.7 995.4,749.4 996.4,749.2 997.4,750.4 998.4,747.7 999.4,747.5 1000.5,748.8 1001.5,749.6 1002.5,749.6 1003.5,749.7 1004.5,751.0 1005.5,749.0 1006.5,749.2 1007.6,748.5 1008.6,748.8 1009.6,750.8 1010.6,750.0 1011.6,746.3 1012.6,751.6 1013.6,747.0 1014.7,748.9 1015.7,750.6 1016.7,749.6 1017.7,750.2 1018.7,750.6 1019.7,749.9 1020.7,748.0 1021.8,750.0 1022.8,748.6 1023.8,746.6 1024.8,749.2 1025.8,750.1 1026.8,749.6 1027.8,749.4 1028.9,751.6 1029.9,749.8 1030.9,750.6 1031.9,749.9 1032.9,751.6 1033.9,749.1 1034.9,751.0 1036.0,751.8 1037.0,747.9 1038.0,750.8 1039.0,747.8 1040.0,749.8 1041.0,750.4 1042.0,748.4 1043.1,747.2 1044.1,749.5 1045.1,749.1 1046.1,749.8 1047.1,749.9 1048.1,750.6 1049.1,751.5 1050.2,749.0 1051.2,747.6 1052.2,750.3 1053.2,750.0 1054.2,749.7 1055.2,750.4 1056.2,749.8 1057.3,749.1 1058.3,750.1 1059.3,747.5 1060.3,750.6 1061.3,749.5 1062.3,751.5 1063.4,750.3 1064.4,750.9 1065.4,749.6 1066.4,747.9 1067.4,749.3 1068.4,749.8 1069.4,750.6 1070.5,749.9 1071.5,750.2 1072.5,750.2 1073.5,748.7 1074.5,749.7 1075.5,749.1 1076.5,747.8 1077.6,747.5 1078.6,750.3 1079.6,751.1 1080.6,751.1 1081.6,748.3 1082.6,751.2 1083.6,751.3 1084.7,748.4 1085.7,750.0 1086.7,751.4 1087.7,749.5 1088.7,750.9 1089.7,748.6 1090.7,749.0 1091.8,750.5 1092.8,749.3 1093.8,749.7 1094.8,749.7 1095.8,748.3 1096.8,752.0 1097.8,749.5 1098.9,749.3 1099.9,749.1 1100.9,749.8 1101.9,748.5 1102.9,750.8 1103.9,749.3 1104.9,752.2 1106.0,748.6 1107.0,748.4 1108.0,748.5 1109.0,749.9 1110.0,748.0 1111.0,750.7 1112.0,748.1 1113.1,750.8 1114.1,749.2 1115.1,750.6 1116.1,748.4 1117.1,748.3 1118.1,750.3 1119.1,748.8 1120.2,750.7 1120.5,748.8 1120.8,749.7 1121.2,748.7 1121.5,748.0 1121.9,750.3 1122.2,749.1 1122.5,750.5 1122.9,749.3 1123.2,747.9 1123.5,748.4 1123.9,749.9 1124.2,750.0 1124.6,750.2 1124.9,749.3 1125.2,748.9 1125.6,749.0 1125.9,748.1 1126.2,749.4 1126.6,749.3 1126.9,749.3 1127.3,748.1 1127.6,749.0 1127.9,748.1 1128.3,749.2 1128.6,747.7 1129.0,747.5 1129.3,747.3 1129.6,746.3 1130.0,745.8 1130.3,745.3 1130.6,742.8 1131.0,744.0 1131.3,741.1 1131.7,738.6 1132.0,735.0 1132.3,731.9 1132.7,727.7 1133.0,723.1 1133.3,717.8 1133.7,712.7 1134.0,707.1 1134.4,702.3 1134.7,697.6 1135.0,693.9 1135.4,691.3 1135.7,690.1 1136.1,690.1 1136.4,691.1 1136.7,693.1 1137.1,696.2 1137.4,698.9 1137.7,701.6 1138.1,704.9 1138.4,707.3 1138.8,709.6 1139.1,710.9 1139.4,712.2 1139.8,712.9 1140.1,714.0 1140.5,714.8 1140.8,716.2 1141.1,718.0 1141.5,719.8 1141.8,722.7 1142.1,725.2 1142.5,727.6 1142.8,730.9 1143.2,732.6 1143.5,736.2 1143.8,738.2 1144.2,741.2 1144.5,740.9 1144.8,745.2 1145.2,744.9 1145.5,744.9 1145.9,747.1 1146.2,747.7 1146.5,748.1 1146.9,749.7 1147.2,747.8 1147.6,748.8 1147.9,748.8 1148.2,746.5 1148.6,749.2 1148.9,749.9 1149.2,748.5 1149.6,749.5 1149.9,749.9 1150.3,749.7 1150.6,748.1 1150.9,749.7 1151.6,749.0 1152.6,751.1 1153.6,749.4 1154.7,752.0 1155.7,748.2 1156.7,750.5 1157.7,748.9 1158.7,751.2 1159.7,751.9 1160.7,748.9 1161.8,751.0 1162.8,750.1 1163.8,748.2 1164.8,748.9 1165.8,750.4 1166.8,750.9 1167.8,749.8 1168.9,750.7 1169.9,750.7 1170.9,750.7 1171.9,748.5 1172.9,750.5 1173.9,751.0 1174.9,748.5 1176.0,752.3 1177.0,755.6 1178.0,750.6 1179.0,753.0 1180.0,749.4 1181.0,749.2 1182.0,749.6 1183.1,749.5 1184.1,752.6 1185.1,750.4 1186.1,752.6 1187.1,750.8 1188.1,752.3 1189.1,750.6 1190.2,749.9 1191.2,750.7 1192.2,755.4 1193.2,750.1 1194.2,752.1 1195.2,750.7 1196.2,750.1 1197.3,750.9 1198.3,752.7 1199.3,749.9 1200.3,751.9 1201.3,750.9 1202.3,750.4 1203.3,750.3 1204.4,752.8 1205.4,752.8 1206.4,750.6 1207.4,751.0 1208.4,749.1 1209.4,751.9 1210.5,748.9 1211.5,749.7 1212.5,749.8 1213.5,749.6 1214.5,750.7 1215.5,748.9 1216.5,750.5 1217.6,751.1 1218.6,752.1 1219.6,750.1 1220.6,751.5 1221.6,751.7 1222.6,748.8 1223.6,750.3 1224.7,748.8 1225.7,749.6 1226.7,750.6 1227.7,748.5 1228.7,750.7 1229.7,749.9 1230.7,749.7 1231.8,750.7 1232.8,749.0 1233.8,747.9 1234.8,750.0 1235.8,749.1 1236.8,749.7 1237.8,748.6 1238.9,748.8 1239.9,748.7 1240.9,748.4 1241.9,749.0 1242.9,749.0 1243.9,749.9 1244.9,753.8 1246.0,749.1 1247.0,747.9 1248.0,750.6 1249.0,748.3 1250.0,748.7 1251.0,749.3 1252.0,749.8 1253.1,749.8 1254.1,750.0 1255.1,749.5 1256.1,751.0 1257.1,750.7 1258.1,749.0 1259.1,749.4 1260.2,748.0 1261.2,750.5 1262.2,749.4 1263.2,750.9 1264.2,748.8 1265.2,751.4 1266.2,748.4 1267.3,747.4 1268.3,748.4 1269.3,749.9 1270.3,750.7 1271.3,748.4 1272.3,750.7 1273.3,748.9 1274.4,748.9 1275.4,749.1 1276.4,751.4 1277.4,747.6 1278.4,749.7 1279.4,747.5 1280.4,749.5 1281.5,749.7 1282.5,751.3 1283.5,748.3 1284.5,748.6 1285.5,748.3 1286.5,748.6 1287.6,750.3 1288.6,748.5 1289.6,751.1 1290.6,748.1 1291.6,748.4 1292.6,748.7 1293.6,747.8 1294.7,747.8 1295.7,750.9 1296.7,750.6 1297.7,748.3 1298.7,749.0 1299.7,751.5 1300.7,748.7 1301.8,749.8 1302.8,750.1 1303.8,749.2 1304.8,750.8 1305.8,749.1 1306.8,749.6 1307.8,747.5 1308.9,748.5 1309.9,749.7 1310.9,747.8 1311.9,749.9 1312.9,748.3 1313.9,746.2 1314.9,747.1 1316.0,749.6 1317.0,750.1 1318.0,748.9 1319.0,747.7 1320.0,749.2 1321.0,750.6 1322.0,749.5 1323.1,747.7 1324.1,750.1 1325.1,749.3 1326.1,749.3 1327.1,749.6 1328.1,750.2 1329.1,749.4 1330.2,749.2 1331.2,749.3 1332.2,749.7 1333.2,751.0 1334.2,748.1 1335.2,749.4 1336.2,748.5 1337.3,749.9 1338.3,748.9 1339.3,745.9 1340.3,750.8 1341.3,748.9 1342.3,748.3 1343.3,747.8 1344.4,748.3 1345.4,748.1 1346.4,749.5 1347.4,749.9 1348.4,749.5 1349.4,750.1 1350.4,748.6 1351.5,751.6 1352.5,749.6 1353.5,750.2 1354.5,750.4 1355.5,749.3 1356.5,751.2 1357.5,750.7 1358.6,749.2 1359.6,751.8 1360.6,751.7 1361.6,747.8 1362.6,746.6 1363.6,749.0 1364.7,750.3 1365.7,751.0 1366.7,750.6 1367.7,749.7 1368.7,750.9 1369.7,750.6 1370.7,749.2 1371.8,749.9 1372.8,751.0 1373.8,748.9 1374.8,748.9 1375.8,748.7 1376.8,751.5 1377.8,750.6 1378.9,750.8 1379.9,749.3 1380.9,749.8 1381.9,751.3 1382.9,749.5 1383.9,752.5 1384.9,749.8 1386.0,749.8 1387.0,750.5 1388.0,750.9 1389.0,752.0 1390.0,749.4 1391.0,751.9 1392.0,748.9 1393.1,748.8 1394.1,747.2 1395.1,751.9 1396.1,751.6 1397.1,748.4 1398.1,749.5 1399.1,749.6 1400.2,748.0 1401.2,749.9 1402.2,750.2 1403.2,749.2 1404.2,748.7 1405.2,750.1 1406.2,750.7 1407.3,748.2 1408.3,749.8 1409.3,750.6 1410.3,746.6 1411.3,750.4 1412.3,754.2 1413.3,748.5 1414.4,751.7 1415.4,750.8 1416.4,750.8 1417.4,749.8 1418.4,748.6 1419.4,747.9 1420.4,752.9 1421.5,748.4 1422.5,749.7 1423.5,751.7 1424.5,750.4 1425.5,750.2 1426.5,747.5 1427.5,749.2 1428.6,748.3 1429.6,747.0 1430.6,750.4 1431.6,750.9 1432.6,749.0 1433.6,749.1 1434.7,750.4 1435.7,749.2 1436.7,748.5 1437.7,751.3 1438.7,751.0 1439.7,749.9 1440.7,748.5 1441.8,750.5 1442.8,750.6 1443.8,751.9 1444.8,749.1 1445.8,751.8 1446.8,749.4 1447.8,750.5 1448.9,749.7 1449.9,749.9 1450.9,749.9 1451.9,749.0 1452.9,750.8 1453.9,749.5 1454.9,749.8 1456.0,749.0 1457.0,750.1 1458.0,747.4 1459.0,749.5 1460.0,751.1 1461.0,750.9 1462.0,747.9 1463.1,748.4 1464.1,749.3 1465.1,752.1 1466.1,749.3 1467.1,749.7 1468.1,749.5 1469.1,750.3 1470.2,748.3 1471.2,750.2 1472.2,750.5 1473.2,751.2 1474.2,748.9 1475.2,751.1 1476.2,752.4 1477.3,751.0 1478.3,750.9 1479.3,747.0 1480.3,751.7"/>
</g>
<g id="dashes">
<line x1="336.6" y1="231.45" x2="336.6" y2="1073.25" stroke="#000" stroke-width="3.5" stroke-linecap="round" stroke-dasharray="14.8 21.2"/>
<line x1="756.1" y1="711.55" x2="756.1" y2="1048.25" stroke="#000" stroke-width="3.5" stroke-linecap="round" stroke-dasharray="14.8 21.2"/>
<line x1="1136.5" y1="672.05" x2="1136.5" y2="1046.25" stroke="#000" stroke-width="3.5" stroke-linecap="round" stroke-dasharray="14.8 21.2"/>
</g>
<g id="axes">
<line x1="125.4" y1="66" x2="125.4" y2="1080.5" stroke="#000" stroke-width="3.8"/>
<line x1="123.5" y1="1078.8" x2="1482.3" y2="1078.8" stroke="#000" stroke-width="3.8"/>
<line x1="128.0" y1="1079" x2="128.0" y2="1099.5" stroke="#000" stroke-width="3.4"/>
<line x1="212.5" y1="1079" x2="212.5" y2="1090.5" stroke="#000" stroke-width="3.4"/>
<line x1="297.1" y1="1079" x2="297.1" y2="1099.5" stroke="#000" stroke-width="3.4"/>
<line x1="381.6" y1="1079" x2="381.6" y2="1090.5" stroke="#000" stroke-width="3.4"/>
<line x1="466.2" y1="1079" x2="466.2" y2="1099.5" stroke="#000" stroke-width="3.4"/>
<line x1="550.7" y1="1079" x2="550.7" y2="1090.5" stroke="#000" stroke-width="3.4"/>
<line x1="635.2" y1="1079" x2="635.2" y2="1099.5" stroke="#000" stroke-width="3.4"/>
<line x1="719.8" y1="1079" x2="719.8" y2="1090.5" stroke="#000" stroke-width="3.4"/>
<line x1="804.3" y1="1079" x2="804.3" y2="1099.5" stroke="#000" stroke-width="3.4"/>
<line x1="888.9" y1="1079" x2="888.9" y2="1090.5" stroke="#000" stroke-width="3.4"/>
<line x1="973.4" y1="1079" x2="973.4" y2="1099.5" stroke="#000" stroke-width="3.4"/>
<line x1="1057.9" y1="1079" x2="1057.9" y2="1090.5" stroke="#000" stroke-width="3.4"/>
<line x1="1142.5" y1="1079" x2="1142.5" y2="1099.5" stroke="#000" stroke-width="3.4"/>
<line x1="1227.0" y1="1079" x2="1227.0" y2="1090.5" stroke="#000" stroke-width="3.4"/>
<line x1="1311.6" y1="1079" x2="1311.6" y2="1099.5" stroke="#000" stroke-width="3.4"/>
<line x1="1396.1" y1="1079" x2="1396.1" y2="1090.5" stroke="#000" stroke-width="3.4"/>
<line x1="1480.6" y1="1079" x2="1480.6" y2="1099.5" stroke="#000" stroke-width="3.4"/>
</g>
<g class="tk">
<text x="128.0" y="1177" text-anchor="middle">40</text>
<text x="297.1" y="1177" text-anchor="middle">50</text>
<text x="466.2" y="1177" text-anchor="middle">60</text>
<text x="635.2" y="1177" text-anchor="middle">70</text>
<text x="804.3" y="1177" text-anchor="middle">80</text>
<text x="973.4" y="1177" text-anchor="middle">90</text>
<text x="1142.5" y="1177" text-anchor="middle">100</text>
<text x="1311.6" y="1177" text-anchor="middle">110</text>
<text x="1480.6" y="1177" text-anchor="middle">120</text>
</g>
<text class="ax" x="627.6" y="1254">2<tspan font-size="74" dx="2.2">θ</tspan><tspan dx="0">, degrees</tspan></text>
<text class="ax" transform="translate(74.3,545) rotate(-90) scale(1,1.03)" text-anchor="middle">Intensity, a.u.</text>
<g class="pk">
<text transform="translate(272.5,70.3) scale(1,1.02)">(110)α</text>
<text transform="translate(686.5,701.5) scale(1,1.02)">(200)α</text>
<text transform="translate(1072,648) scale(1,1.02)">(211)α</text>
</g>
<g id="legend">
<line x1="926" y1="103.9" x2="1040.5" y2="103.9" stroke="#ff0000" stroke-width="4"/>
<text transform="translate(1054,121.1) scale(1,1.03)" class="lg">Cast state</text>
<line x1="926" y1="180.9" x2="1040.5" y2="180.9" stroke="#0000ff" stroke-width="4"/>
<text transform="translate(1054,198.1) scale(1,1.03)" class="lg">EBAM steel (zy)</text>
<line x1="926" y1="257.9" x2="1040.5" y2="257.9" stroke="#00ffff" stroke-width="4"/>
<text transform="translate(1054,275.1) scale(1,1.03)" class="lg">EBAM steel (xy)</text>
<line x1="926" y1="334.9" x2="1040.5" y2="334.9" stroke="#00ff00" stroke-width="4"/>
<text transform="translate(1054,352.1) scale(1,1.03)" class="lg">EBAM steel (xz)</text>
</g>
</svg>
</body></html>
